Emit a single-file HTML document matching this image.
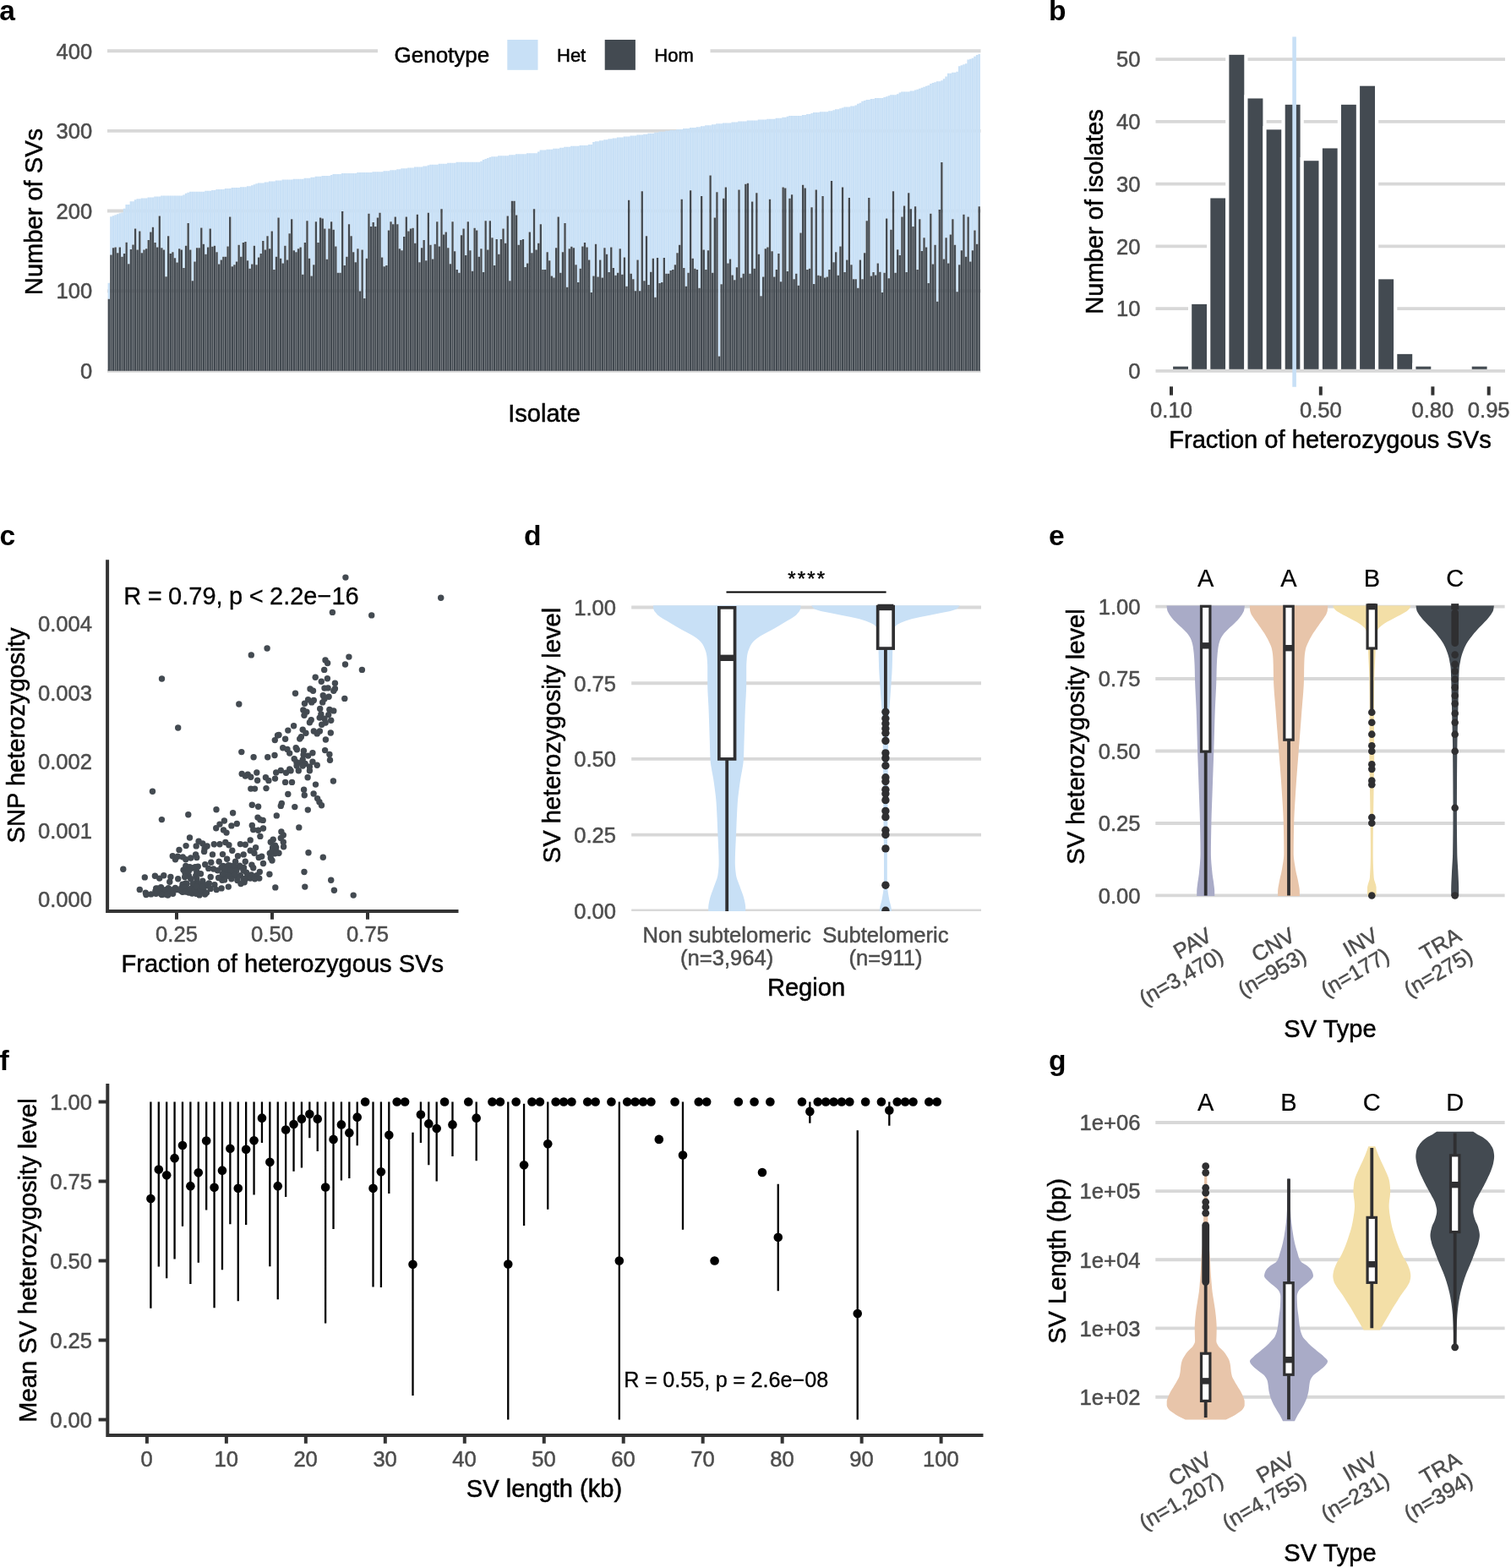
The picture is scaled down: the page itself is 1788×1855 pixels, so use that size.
<!DOCTYPE html>
<html lang="en">
<head>
<meta charset="utf-8">
<title>Figure: SV heterozygosity</title>
<style>
html,body{margin:0;padding:0;background:#fff;}
body{width:1788px;height:1855px;overflow:hidden;}
svg{display:block;font-family:"Liberation Sans", Arial, Helvetica, sans-serif;}
</style>
</head>
<body>
<svg width="1788" height="1855" viewBox="0 0 1788 1855">
<rect width="1788" height="1855" fill="#ffffff"/>
<g id="panel-a">
<path d="M127 438.85H1160.5M127 344.19H1160.5M127 249.53H1160.5M127 154.87H1160.5M127 60.21H1160.5" stroke="#d8d8d8" stroke-width="3.9" fill="none"/>
<path d="M127.58 353.66V334.72h2.45V353.66zM130.19 301.56V256.16h2.45V301.56zM132.79 293.26V255.21h2.45V293.26zM135.4 292.5V254.26h2.45V292.5zM138.01 299.3V253.32h2.45V299.3zM140.61 292.5V252.37h2.45V292.5zM143.22 303.83V251.42h2.45V303.83zM145.83 300.05V246.69h2.45V300.05zM148.44 286.76V241.96h2.45V286.76zM151.04 312.13V241.96h2.45V312.13zM153.65 295.07V238.17h2.45V295.07zM156.26 289.48V238.17h2.45V289.48zM158.87 270.6V236.28h2.45V270.6zM161.47 295.52V235.33h2.45V295.52zM164.08 273.62V235.33h2.45V273.62zM166.69 299.3V234.38h2.45V299.3zM169.3 295.52V234.38h2.45V295.52zM171.9 294.31V234.38h2.45V294.31zM174.51 283.89V233.44h2.45V283.89zM177.12 274.38V233.44h2.45V274.38zM179.72 268.79V233.44h2.45V268.79zM182.33 286.91V232.49h2.45V286.91zM184.94 292.5V232.49h2.45V292.5zM187.55 255.5V232.49h2.45V255.5zM190.15 293.26V231.54h2.45V293.26zM192.76 295.52V231.54h2.45V295.52zM195.37 327.23V231.54h2.45V327.23zM197.98 279.21V231.54h2.45V279.21zM200.58 300.05V231.54h2.45V300.05zM203.19 298.24V231.54h2.45V298.24zM205.8 305.34V231.54h2.45V305.34zM208.41 310.62V231.54h2.45V310.62zM211.01 294.31V231.54h2.45V294.31zM213.62 295.52V231.54h2.45V295.52zM216.23 317.11V230.6h2.45V317.11zM218.83 290.69V228.7h2.45V290.69zM221.44 264.11V227.76h2.45V264.11zM224.05 295.52V226.81h2.45V295.52zM226.66 332.21V226.81h2.45V332.21zM229.26 309.41V226.81h2.45V309.41zM231.87 293.26V226.81h2.45V293.26zM234.48 293.26V226.81h2.45V293.26zM237.09 269.55V226.81h2.45V269.55zM239.69 288.72V226.81h2.45V288.72zM242.3 300.81V225.87h2.45V300.81zM244.91 292.5V225.87h2.45V292.5zM247.52 270.6V225.87h2.45V270.6zM250.12 291.74V224.92h2.45V291.74zM252.73 290.69V224.92h2.45V290.69zM255.34 298.24V223.97h2.45V298.24zM257.94 312.43V223.97h2.45V312.43zM260.55 307.6V223.97h2.45V307.6zM263.16 303.83V223.97h2.45V303.83zM265.77 303.83V223.03h2.45V303.83zM268.37 291.44V223.03h2.45V291.44zM270.98 256.56V223.03h2.45V256.56zM273.59 315.15V222.08h2.45V315.15zM276.2 313.19V222.08h2.45V313.19zM278.8 309.41V222.08h2.45V309.41zM281.41 289.78V222.08h2.45V289.78zM284.02 303.83V221.13h2.45V303.83zM286.62 286.91V221.13h2.45V286.91zM289.23 286.01V221.13h2.45V286.01zM291.84 308.36V220.19h2.45V308.36zM294.45 317.87V220.19h2.45V317.87zM297.05 312.43V219.24h2.45V312.43zM299.66 290.69V218.29h2.45V290.69zM302.27 313.19V217.35h2.45V313.19zM304.88 304.58V216.4h2.45V304.58zM307.48 300.05V216.4h2.45V300.05zM310.09 284.95V216.4h2.45V284.95zM312.7 295.52V215.45h2.45V295.52zM315.31 279.21V215.45h2.45V279.21zM317.91 294.31V214.51h2.45V294.31zM320.52 273.62V214.51h2.45V273.62zM323.13 318.93V214.51h2.45V318.93zM325.73 303.83V213.56h2.45V303.83zM328.34 257.47V213.56h2.45V257.47zM330.95 305.64V213.56h2.45V305.64zM333.56 311.38V212.61h2.45V311.38zM336.16 290.69V212.61h2.45V290.69zM338.77 307.6V212.61h2.45V307.6zM341.38 276.34V212.61h2.45V276.34zM343.99 259.28V212.61h2.45V259.28zM346.59 296.28V211.67h2.45V296.28zM349.2 298.24V211.67h2.45V298.24zM351.81 294.31V211.67h2.45V294.31zM354.42 292.5V211.67h2.45V292.5zM357.02 324.66V211.67h2.45V324.66zM359.63 286.91V210.72h2.45V286.91zM362.24 261.24V210.72h2.45V261.24zM364.84 305.64V210.72h2.45V305.64zM367.45 326.48V209.77h2.45V326.48zM370.06 313.19V209.77h2.45V313.19zM372.67 262.3V208.83h2.45V262.3zM375.27 286.91V208.83h2.45V286.91zM377.88 257.47V208.83h2.45V257.47zM380.49 258.52V207.88h2.45V258.52zM383.1 270.6V207.88h2.45V270.6zM385.7 306.85V207.88h2.45V306.85zM388.31 270.6V207.88h2.45V270.6zM390.92 262.3V206.93h2.45V262.3zM393.53 271.66V205.99h2.45V271.66zM396.13 291.44V205.99h2.45V291.44zM398.74 322.7V205.99h2.45V322.7zM401.35 322.7V205.99h2.45V322.7zM403.95 249.92V205.04h2.45V249.92zM406.56 314.09V205.04h2.45V314.09zM409.17 303.83V205.04h2.45V303.83zM411.78 265.32V205.04h2.45V265.32zM414.38 279.21V205.04h2.45V279.21zM416.99 298.24V205.04h2.45V298.24zM419.6 310.32V205.04h2.45V310.32zM422.21 294.31V204.09h2.45V294.31zM424.81 344.6V204.09h2.45V344.6zM427.42 295.52V204.09h2.45V295.52zM430.03 352.9V204.09h2.45V352.9zM432.64 305.64V204.09h2.45V305.64zM435.24 252.79V204.09h2.45V252.79zM437.85 267.89V204.09h2.45V267.89zM440.46 263.05V203.15h2.45V263.05zM443.06 267.89V203.15h2.45V267.89zM445.67 257.47V203.15h2.45V257.47zM448.28 251.73V203.15h2.45V251.73zM450.89 304.58V203.15h2.45V304.58zM453.49 315.15V202.2h2.45V315.15zM456.1 314.09V202.2h2.45V314.09zM458.71 272.57V202.2h2.45V272.57zM461.32 262.3V201.25h2.45V262.3zM463.92 265.32V201.25h2.45V265.32zM466.53 256.56V201.25h2.45V256.56zM469.14 265.32V200.31h2.45V265.32zM471.74 294.31V200.31h2.45V294.31zM474.35 296.28V199.36h2.45V296.28zM476.96 280.12V199.36h2.45V280.12zM479.57 256.56V199.36h2.45V256.56zM482.17 273.62V198.41h2.45V273.62zM484.78 270.6V198.41h2.45V270.6zM487.39 269.85V198.41h2.45V269.85zM490 287.67V197.47h2.45V287.67zM492.6 253.69V197.47h2.45V253.69zM495.21 310.32V197.47h2.45V310.32zM497.82 293.26V197.47h2.45V293.26zM500.43 283.89V196.52h2.45V283.89zM503.03 308.36V196.52h2.45V308.36zM505.64 251.73V195.57h2.45V251.73zM508.25 289.78V194.63h2.45V289.78zM510.85 306.54V194.63h2.45V306.54zM513.46 288.72V194.63h2.45V288.72zM516.07 262.3V194.63h2.45V262.3zM518.68 291.44V193.68h2.45V291.44zM521.28 247.2V193.68h2.45V247.2zM523.89 277.4V193.68h2.45V277.4zM526.5 274.38V193.68h2.45V274.38zM529.11 293.26V192.73h2.45V293.26zM531.71 312.13V192.73h2.45V312.13zM534.32 262.3V192.73h2.45V262.3zM536.93 297.33V192.73h2.45V297.33zM539.54 318.93V191.79h2.45V318.93zM542.14 322.7V191.79h2.45V322.7zM544.75 278.15V191.79h2.45V278.15zM547.36 270.6V191.79h2.45V270.6zM549.96 302.01V191.79h2.45V302.01zM552.57 262.3V191.79h2.45V262.3zM555.18 296.28V191.79h2.45V296.28zM557.79 320.74V191.79h2.45V320.74zM560.39 269.85V191.79h2.45V269.85zM563 272.57V191.79h2.45V272.57zM565.61 303.83V191.79h2.45V303.83zM568.22 294.31V190.84h2.45V294.31zM570.82 321.95V188.95h2.45V321.95zM573.43 261.24V188h2.45V261.24zM576.04 295.52V187.05h2.45V295.52zM578.65 261.24V186.11h2.45V261.24zM581.25 281.17V185.16h2.45V281.17zM583.86 314.09V185.16h2.45V314.09zM586.47 282.99V185.16h2.45V282.99zM589.07 300.81V184.21h2.45V300.81zM591.68 282.99V184.21h2.45V282.99zM594.29 270.6V184.21h2.45V270.6zM596.9 287.67V184.21h2.45V287.67zM599.5 255.5V184.21h2.45V255.5zM602.11 332.21V183.27h2.45V332.21zM604.72 237.68V183.27h2.45V237.68zM607.33 237.68V183.27h2.45V237.68zM609.93 254.45V182.32h2.45V254.45zM612.54 289.78V182.32h2.45V289.78zM615.15 283.89V182.32h2.45V283.89zM617.75 282.99V182.32h2.45V282.99zM620.36 315.91V182.32h2.45V315.91zM622.97 311.38V181.37h2.45V311.38zM625.58 274.38V181.37h2.45V274.38zM628.18 299.3V181.37h2.45V299.3zM630.79 247.2V181.37h2.45V247.2zM633.4 295.52V181.37h2.45V295.52zM636.01 287.67V179.48h2.45V287.67zM638.61 265.32V177.59h2.45V265.32zM641.22 318.93V177.59h2.45V318.93zM643.83 318.93V177.59h2.45V318.93zM646.44 298.24V176.64h2.45V298.24zM649.04 308.36V176.64h2.45V308.36zM651.65 326.48V176.64h2.45V326.48zM654.26 328.44V175.7h2.45V328.44zM656.86 293.26V175.7h2.45V293.26zM659.47 256.56V175.7h2.45V256.56zM662.08 322.7V174.75h2.45V322.7zM664.69 298.24V174.75h2.45V298.24zM667.29 264.11V173.8h2.45V264.11zM669.9 339.77V173.8h2.45V339.77zM672.51 294.31V173.8h2.45V294.31zM675.12 291.74V172.86h2.45V291.74zM677.72 293.26V172.86h2.45V293.26zM680.33 313.19V172.86h2.45V313.19zM682.94 334.03V172.86h2.45V334.03zM685.55 317.87V171.91h2.45V317.87zM688.15 291.44V171.91h2.45V291.44zM690.76 286.91V171.91h2.45V286.91zM693.37 292.5V171.91h2.45V292.5zM695.97 307.6V170.96h2.45V307.6zM698.58 346.11V170.96h2.45V346.11zM701.19 326.48V168.12h2.45V326.48zM703.8 288.72V167.18h2.45V288.72zM706.4 327.53V167.18h2.45V327.53zM709.01 307.6V166.23h2.45V307.6zM711.62 328.44V166.23h2.45V328.44zM714.23 293.26V165.28h2.45V293.26zM716.83 300.81V165.28h2.45V300.81zM719.44 321.95V164.34h2.45V321.95zM722.05 292.5V164.34h2.45V292.5zM724.66 317.11V163.39h2.45V317.11zM727.26 325.72V163.39h2.45V325.72zM729.87 322.7V162.44h2.45V322.7zM732.48 294.31V162.44h2.45V294.31zM735.08 324.66V162.44h2.45V324.66zM737.69 304.58V161.5h2.45V304.58zM740.3 338.86V161.5h2.45V338.86zM742.91 236.63V161.5h2.45V236.63zM745.51 323.76V160.55h2.45V323.76zM748.12 330.25V160.55h2.45V330.25zM750.73 344.3V160.55h2.45V344.3zM753.34 307.6V159.6h2.45V307.6zM755.94 344.3V159.6h2.45V344.3zM758.55 226.36V159.6h2.45V226.36zM761.16 332.21V158.66h2.45V332.21zM763.77 279.21V158.66h2.45V279.21zM766.37 337.05V157.71h2.45V337.05zM768.98 321.64V157.71h2.45V321.64zM771.59 305.64V157.71h2.45V305.64zM774.19 351.85V156.76h2.45V351.85zM776.8 304.88V156.76h2.45V304.88zM779.41 335.08V155.82h2.45V335.08zM782.02 334.03V155.82h2.45V334.03zM784.62 304.88V155.82h2.45V304.88zM787.23 323.76V154.87h2.45V323.76zM789.84 323.76V154.87h2.45V323.76zM792.45 319.98V153.92h2.45V319.98zM795.05 318.93V153.92h2.45V318.93zM797.66 313.19V153.92h2.45V313.19zM800.27 299.3V152.98h2.45V299.3zM802.87 289.78V152.98h2.45V289.78zM805.48 235.87V152.98h2.45V235.87zM808.09 317.11V152.03h2.45V317.11zM810.7 338.86V152.03h2.45V338.86zM813.3 322.7V152.03h2.45V322.7zM815.91 225.3V151.08h2.45V225.3zM818.52 305.64V151.08h2.45V305.64zM821.13 317.87V151.08h2.45V317.87zM823.73 318.93V150.14h2.45V318.93zM826.34 340.82V150.14h2.45V340.82zM828.95 232.1V149.19h2.45V232.1zM831.56 295.52V149.19h2.45V295.52zM834.16 318.93V148.24h2.45V318.93zM836.77 296.28V148.24h2.45V296.28zM839.38 207.48V148.24h2.45V207.48zM841.98 322.7V147.3h2.45V322.7zM844.59 257.47V147.3h2.45V257.47zM847.2 227.27V146.35h2.45V227.27zM849.81 421.61V146.35h2.45V421.61zM852.41 336.29V146.35h2.45V336.29zM855.02 234.82V145.4h2.45V234.82zM857.63 221.53V145.4h2.45V221.53zM860.24 311.38V145.4h2.45V311.38zM862.84 306.54V145.4h2.45V306.54zM865.45 325.42V144.46h2.45V325.42zM868.06 331.31V144.46h2.45V331.31zM870.67 316.21V144.46h2.45V316.21zM873.27 224.55V143.51h2.45V224.55zM875.88 328.44V143.51h2.45V328.44zM878.49 323.76V143.51h2.45V323.76zM881.09 217.75V143.51h2.45V217.75zM883.7 216.69V142.56h2.45V216.69zM886.31 323.76V142.56h2.45V323.76zM888.92 238.59V142.56h2.45V238.59zM891.52 317.87V142.56h2.45V317.87zM894.13 228.32V142.56h2.45V228.32zM896.74 300.81V141.62h2.45V300.81zM899.35 350.18V141.62h2.45V350.18zM901.95 327.53V141.62h2.45V327.53zM904.56 294.31V141.62h2.45V294.31zM907.17 292.5V140.67h2.45V292.5zM909.78 235.87V140.67h2.45V235.87zM912.38 297.33V140.67h2.45V297.33zM914.99 327.53V140.67h2.45V327.53zM917.6 318.93V139.72h2.45V318.93zM920.2 300.05V139.72h2.45V300.05zM922.81 333.27V139.72h2.45V333.27zM925.42 221.53V138.78h2.45V221.53zM928.03 222.58V138.78h2.45V222.58zM930.63 320.89V137.83h2.45V320.89zM933.24 234.82V136.88h2.45V234.82zM935.85 230.13V136.88h2.45V230.13zM938.46 330.25V136.88h2.45V330.25zM941.06 323.76V136.88h2.45V323.76zM943.67 337.8V136.88h2.45V337.8zM946.28 275.44V136.88h2.45V275.44zM948.89 218.81V135.94h2.45V218.81zM951.49 222.58V135.94h2.45V222.58zM954.1 318.93V134.99h2.45V318.93zM956.71 317.87V134.99h2.45V317.87zM959.31 245.23V134.04h2.45V245.23zM961.92 335.99V133.1h2.45V335.99zM964.53 224.55V133.1h2.45V224.55zM967.14 325.72V133.1h2.45V325.72zM969.74 326.48V132.15h2.45V326.48zM972.35 232.1V132.15h2.45V232.1zM974.96 328.44V132.15h2.45V328.44zM977.57 327.53V132.15h2.45V327.53zM980.17 318.93V131.21h2.45V318.93zM982.78 213.98V131.21h2.45V213.98zM985.39 310.32V130.26h2.45V310.32zM987.99 298.24V129.31h2.45V298.24zM990.6 325.72V129.31h2.45V325.72zM993.21 291.44V128.37h2.45V291.44zM995.82 221.53V127.42h2.45V221.53zM998.42 321.95V126.47h2.45V321.95zM1001.03 307.6V126.47h2.45V307.6zM1003.64 233.91V126.47h2.45V233.91zM1006.25 313.19V125.53h2.45V313.19zM1008.85 330.25V125.53h2.45V330.25zM1011.46 330.25V124.58h2.45V330.25zM1014.07 340.82V122.69h2.45V340.82zM1016.68 307.6V121.74h2.45V307.6zM1019.28 330.25V119.85h2.45V330.25zM1021.89 299.3V118.9h2.45V299.3zM1024.5 261.24V117.95h2.45V261.24zM1027.1 233.91V117.95h2.45V233.91zM1029.71 326.48V117.01h2.45V326.48zM1032.32 321.95V117.01h2.45V321.95zM1034.93 325.42V116.06h2.45V325.42zM1037.53 311.38V116.06h2.45V311.38zM1040.14 321.64V116.06h2.45V321.64zM1042.75 346.11V116.06h2.45V346.11zM1045.36 322.7V115.11h2.45V322.7zM1047.96 258.52V114.17h2.45V258.52zM1050.57 329.19V113.22h2.45V329.19zM1053.18 271.66V112.27h2.45V271.66zM1055.79 226.36V112.27h2.45V226.36zM1058.39 322.7V112.27h2.45V322.7zM1061 295.22V111.33h2.45V295.22zM1063.61 302.01V109.43h2.45V302.01zM1066.21 256.56V108.49h2.45V256.56zM1068.82 243.42V108.49h2.45V243.42zM1071.43 321.95V108.49h2.45V321.95zM1074.04 228.32V108.49h2.45V228.32zM1076.64 247.2V107.54h2.45V247.2zM1079.25 267.89V107.54h2.45V267.89zM1081.86 244.33V106.59h2.45V244.33zM1084.47 318.93V105.65h2.45V318.93zM1087.07 259.28V104.7h2.45V259.28zM1089.68 297.03V103.75h2.45V297.03zM1092.29 281.17V102.81h2.45V281.17zM1094.9 292.5V101.86h2.45V292.5zM1097.5 335.08V100.91h2.45V335.08zM1100.11 252.79V99.02h2.45V252.79zM1102.72 312.43V98.07h2.45V312.43zM1105.32 289.78V97.13h2.45V289.78zM1107.93 356.68V96.18h2.45V356.68zM1110.54 247.95V96.18h2.45V247.95zM1113.15 192.08V95.23h2.45V192.08zM1115.75 306.54V93.34h2.45V306.54zM1118.36 281.17V90.5h2.45V281.17zM1120.97 311.38V86.71h2.45V311.38zM1123.58 277.4V86.71h2.45V277.4zM1126.18 259.28V85.77h2.45V259.28zM1128.79 289.78V85.77h2.45V289.78zM1131.4 345.35V84.82h2.45V345.35zM1134 313.19V78.2h2.45V313.19zM1136.61 296.28V77.25h2.45V296.28zM1139.22 253.69V76.3h2.45V253.69zM1141.83 303.83V75.36h2.45V303.83zM1144.43 256.56V70.62h2.45V256.56zM1147.04 309.41V69.68h2.45V309.41zM1149.65 296.28V68.73h2.45V296.28zM1152.26 272.57V66.84h2.45V272.57zM1154.86 288.72V64.94h2.45V288.72zM1157.47 244.18V64h2.45V244.18z" fill="#c8e0f6"/>
<path d="M127.64 438.85V353.66h2.33V438.85zM130.24 438.85V301.56h2.33V438.85zM132.85 438.85V293.26h2.33V438.85zM135.46 438.85V292.5h2.33V438.85zM138.07 438.85V299.3h2.33V438.85zM140.67 438.85V292.5h2.33V438.85zM143.28 438.85V303.83h2.33V438.85zM145.89 438.85V300.05h2.33V438.85zM148.5 438.85V286.76h2.33V438.85zM151.1 438.85V312.13h2.33V438.85zM153.71 438.85V295.07h2.33V438.85zM156.32 438.85V289.48h2.33V438.85zM158.92 438.85V270.6h2.33V438.85zM161.53 438.85V295.52h2.33V438.85zM164.14 438.85V273.62h2.33V438.85zM166.75 438.85V299.3h2.33V438.85zM169.35 438.85V295.52h2.33V438.85zM171.96 438.85V294.31h2.33V438.85zM174.57 438.85V283.89h2.33V438.85zM177.18 438.85V274.38h2.33V438.85zM179.78 438.85V268.79h2.33V438.85zM182.39 438.85V286.91h2.33V438.85zM185 438.85V292.5h2.33V438.85zM187.61 438.85V255.5h2.33V438.85zM190.21 438.85V293.26h2.33V438.85zM192.82 438.85V295.52h2.33V438.85zM195.43 438.85V327.23h2.33V438.85zM198.03 438.85V279.21h2.33V438.85zM200.64 438.85V300.05h2.33V438.85zM203.25 438.85V298.24h2.33V438.85zM205.86 438.85V305.34h2.33V438.85zM208.46 438.85V310.62h2.33V438.85zM211.07 438.85V294.31h2.33V438.85zM213.68 438.85V295.52h2.33V438.85zM216.29 438.85V317.11h2.33V438.85zM218.89 438.85V290.69h2.33V438.85zM221.5 438.85V264.11h2.33V438.85zM224.11 438.85V295.52h2.33V438.85zM226.72 438.85V332.21h2.33V438.85zM229.32 438.85V309.41h2.33V438.85zM231.93 438.85V293.26h2.33V438.85zM234.54 438.85V293.26h2.33V438.85zM237.14 438.85V269.55h2.33V438.85zM239.75 438.85V288.72h2.33V438.85zM242.36 438.85V300.81h2.33V438.85zM244.97 438.85V292.5h2.33V438.85zM247.57 438.85V270.6h2.33V438.85zM250.18 438.85V291.74h2.33V438.85zM252.79 438.85V290.69h2.33V438.85zM255.4 438.85V298.24h2.33V438.85zM258 438.85V312.43h2.33V438.85zM260.61 438.85V307.6h2.33V438.85zM263.22 438.85V303.83h2.33V438.85zM265.83 438.85V303.83h2.33V438.85zM268.43 438.85V291.44h2.33V438.85zM271.04 438.85V256.56h2.33V438.85zM273.65 438.85V315.15h2.33V438.85zM276.25 438.85V313.19h2.33V438.85zM278.86 438.85V309.41h2.33V438.85zM281.47 438.85V289.78h2.33V438.85zM284.08 438.85V303.83h2.33V438.85zM286.68 438.85V286.91h2.33V438.85zM289.29 438.85V286.01h2.33V438.85zM291.9 438.85V308.36h2.33V438.85zM294.51 438.85V317.87h2.33V438.85zM297.11 438.85V312.43h2.33V438.85zM299.72 438.85V290.69h2.33V438.85zM302.33 438.85V313.19h2.33V438.85zM304.93 438.85V304.58h2.33V438.85zM307.54 438.85V300.05h2.33V438.85zM310.15 438.85V284.95h2.33V438.85zM312.76 438.85V295.52h2.33V438.85zM315.36 438.85V279.21h2.33V438.85zM317.97 438.85V294.31h2.33V438.85zM320.58 438.85V273.62h2.33V438.85zM323.19 438.85V318.93h2.33V438.85zM325.79 438.85V303.83h2.33V438.85zM328.4 438.85V257.47h2.33V438.85zM331.01 438.85V305.64h2.33V438.85zM333.62 438.85V311.38h2.33V438.85zM336.22 438.85V290.69h2.33V438.85zM338.83 438.85V307.6h2.33V438.85zM341.44 438.85V276.34h2.33V438.85zM344.04 438.85V259.28h2.33V438.85zM346.65 438.85V296.28h2.33V438.85zM349.26 438.85V298.24h2.33V438.85zM351.87 438.85V294.31h2.33V438.85zM354.47 438.85V292.5h2.33V438.85zM357.08 438.85V324.66h2.33V438.85zM359.69 438.85V286.91h2.33V438.85zM362.3 438.85V261.24h2.33V438.85zM364.9 438.85V305.64h2.33V438.85zM367.51 438.85V326.48h2.33V438.85zM370.12 438.85V313.19h2.33V438.85zM372.73 438.85V262.3h2.33V438.85zM375.33 438.85V286.91h2.33V438.85zM377.94 438.85V257.47h2.33V438.85zM380.55 438.85V258.52h2.33V438.85zM383.15 438.85V270.6h2.33V438.85zM385.76 438.85V306.85h2.33V438.85zM388.37 438.85V270.6h2.33V438.85zM390.98 438.85V262.3h2.33V438.85zM393.58 438.85V271.66h2.33V438.85zM396.19 438.85V291.44h2.33V438.85zM398.8 438.85V322.7h2.33V438.85zM401.41 438.85V322.7h2.33V438.85zM404.01 438.85V249.92h2.33V438.85zM406.62 438.85V314.09h2.33V438.85zM409.23 438.85V303.83h2.33V438.85zM411.84 438.85V265.32h2.33V438.85zM414.44 438.85V279.21h2.33V438.85zM417.05 438.85V298.24h2.33V438.85zM419.66 438.85V310.32h2.33V438.85zM422.26 438.85V294.31h2.33V438.85zM424.87 438.85V344.6h2.33V438.85zM427.48 438.85V295.52h2.33V438.85zM430.09 438.85V352.9h2.33V438.85zM432.69 438.85V305.64h2.33V438.85zM435.3 438.85V252.79h2.33V438.85zM437.91 438.85V267.89h2.33V438.85zM440.52 438.85V263.05h2.33V438.85zM443.12 438.85V267.89h2.33V438.85zM445.73 438.85V257.47h2.33V438.85zM448.34 438.85V251.73h2.33V438.85zM450.94 438.85V304.58h2.33V438.85zM453.55 438.85V315.15h2.33V438.85zM456.16 438.85V314.09h2.33V438.85zM458.77 438.85V272.57h2.33V438.85zM461.37 438.85V262.3h2.33V438.85zM463.98 438.85V265.32h2.33V438.85zM466.59 438.85V256.56h2.33V438.85zM469.2 438.85V265.32h2.33V438.85zM471.8 438.85V294.31h2.33V438.85zM474.41 438.85V296.28h2.33V438.85zM477.02 438.85V280.12h2.33V438.85zM479.63 438.85V256.56h2.33V438.85zM482.23 438.85V273.62h2.33V438.85zM484.84 438.85V270.6h2.33V438.85zM487.45 438.85V269.85h2.33V438.85zM490.05 438.85V287.67h2.33V438.85zM492.66 438.85V253.69h2.33V438.85zM495.27 438.85V310.32h2.33V438.85zM497.88 438.85V293.26h2.33V438.85zM500.48 438.85V283.89h2.33V438.85zM503.09 438.85V308.36h2.33V438.85zM505.7 438.85V251.73h2.33V438.85zM508.31 438.85V289.78h2.33V438.85zM510.91 438.85V306.54h2.33V438.85zM513.52 438.85V288.72h2.33V438.85zM516.13 438.85V262.3h2.33V438.85zM518.74 438.85V291.44h2.33V438.85zM521.34 438.85V247.2h2.33V438.85zM523.95 438.85V277.4h2.33V438.85zM526.56 438.85V274.38h2.33V438.85zM529.16 438.85V293.26h2.33V438.85zM531.77 438.85V312.13h2.33V438.85zM534.38 438.85V262.3h2.33V438.85zM536.99 438.85V297.33h2.33V438.85zM539.59 438.85V318.93h2.33V438.85zM542.2 438.85V322.7h2.33V438.85zM544.81 438.85V278.15h2.33V438.85zM547.42 438.85V270.6h2.33V438.85zM550.02 438.85V302.01h2.33V438.85zM552.63 438.85V262.3h2.33V438.85zM555.24 438.85V296.28h2.33V438.85zM557.85 438.85V320.74h2.33V438.85zM560.45 438.85V269.85h2.33V438.85zM563.06 438.85V272.57h2.33V438.85zM565.67 438.85V303.83h2.33V438.85zM568.27 438.85V294.31h2.33V438.85zM570.88 438.85V321.95h2.33V438.85zM573.49 438.85V261.24h2.33V438.85zM576.1 438.85V295.52h2.33V438.85zM578.7 438.85V261.24h2.33V438.85zM581.31 438.85V281.17h2.33V438.85zM583.92 438.85V314.09h2.33V438.85zM586.53 438.85V282.99h2.33V438.85zM589.13 438.85V300.81h2.33V438.85zM591.74 438.85V282.99h2.33V438.85zM594.35 438.85V270.6h2.33V438.85zM596.96 438.85V287.67h2.33V438.85zM599.56 438.85V255.5h2.33V438.85zM602.17 438.85V332.21h2.33V438.85zM604.78 438.85V237.68h2.33V438.85zM607.38 438.85V237.68h2.33V438.85zM609.99 438.85V254.45h2.33V438.85zM612.6 438.85V289.78h2.33V438.85zM615.21 438.85V283.89h2.33V438.85zM617.81 438.85V282.99h2.33V438.85zM620.42 438.85V315.91h2.33V438.85zM623.03 438.85V311.38h2.33V438.85zM625.64 438.85V274.38h2.33V438.85zM628.24 438.85V299.3h2.33V438.85zM630.85 438.85V247.2h2.33V438.85zM633.46 438.85V295.52h2.33V438.85zM636.06 438.85V287.67h2.33V438.85zM638.67 438.85V265.32h2.33V438.85zM641.28 438.85V318.93h2.33V438.85zM643.89 438.85V318.93h2.33V438.85zM646.49 438.85V298.24h2.33V438.85zM649.1 438.85V308.36h2.33V438.85zM651.71 438.85V326.48h2.33V438.85zM654.32 438.85V328.44h2.33V438.85zM656.92 438.85V293.26h2.33V438.85zM659.53 438.85V256.56h2.33V438.85zM662.14 438.85V322.7h2.33V438.85zM664.75 438.85V298.24h2.33V438.85zM667.35 438.85V264.11h2.33V438.85zM669.96 438.85V339.77h2.33V438.85zM672.57 438.85V294.31h2.33V438.85zM675.17 438.85V291.74h2.33V438.85zM677.78 438.85V293.26h2.33V438.85zM680.39 438.85V313.19h2.33V438.85zM683 438.85V334.03h2.33V438.85zM685.6 438.85V317.87h2.33V438.85zM688.21 438.85V291.44h2.33V438.85zM690.82 438.85V286.91h2.33V438.85zM693.43 438.85V292.5h2.33V438.85zM696.03 438.85V307.6h2.33V438.85zM698.64 438.85V346.11h2.33V438.85zM701.25 438.85V326.48h2.33V438.85zM703.86 438.85V288.72h2.33V438.85zM706.46 438.85V327.53h2.33V438.85zM709.07 438.85V307.6h2.33V438.85zM711.68 438.85V328.44h2.33V438.85zM714.28 438.85V293.26h2.33V438.85zM716.89 438.85V300.81h2.33V438.85zM719.5 438.85V321.95h2.33V438.85zM722.11 438.85V292.5h2.33V438.85zM724.71 438.85V317.11h2.33V438.85zM727.32 438.85V325.72h2.33V438.85zM729.93 438.85V322.7h2.33V438.85zM732.54 438.85V294.31h2.33V438.85zM735.14 438.85V324.66h2.33V438.85zM737.75 438.85V304.58h2.33V438.85zM740.36 438.85V338.86h2.33V438.85zM742.97 438.85V236.63h2.33V438.85zM745.57 438.85V323.76h2.33V438.85zM748.18 438.85V330.25h2.33V438.85zM750.79 438.85V344.3h2.33V438.85zM753.39 438.85V307.6h2.33V438.85zM756 438.85V344.3h2.33V438.85zM758.61 438.85V226.36h2.33V438.85zM761.22 438.85V332.21h2.33V438.85zM763.82 438.85V279.21h2.33V438.85zM766.43 438.85V337.05h2.33V438.85zM769.04 438.85V321.64h2.33V438.85zM771.65 438.85V305.64h2.33V438.85zM774.25 438.85V351.85h2.33V438.85zM776.86 438.85V304.88h2.33V438.85zM779.47 438.85V335.08h2.33V438.85zM782.08 438.85V334.03h2.33V438.85zM784.68 438.85V304.88h2.33V438.85zM787.29 438.85V323.76h2.33V438.85zM789.9 438.85V323.76h2.33V438.85zM792.5 438.85V319.98h2.33V438.85zM795.11 438.85V318.93h2.33V438.85zM797.72 438.85V313.19h2.33V438.85zM800.33 438.85V299.3h2.33V438.85zM802.93 438.85V289.78h2.33V438.85zM805.54 438.85V235.87h2.33V438.85zM808.15 438.85V317.11h2.33V438.85zM810.76 438.85V338.86h2.33V438.85zM813.36 438.85V322.7h2.33V438.85zM815.97 438.85V225.3h2.33V438.85zM818.58 438.85V305.64h2.33V438.85zM821.18 438.85V317.87h2.33V438.85zM823.79 438.85V318.93h2.33V438.85zM826.4 438.85V340.82h2.33V438.85zM829.01 438.85V232.1h2.33V438.85zM831.61 438.85V295.52h2.33V438.85zM834.22 438.85V318.93h2.33V438.85zM836.83 438.85V296.28h2.33V438.85zM839.44 438.85V207.48h2.33V438.85zM842.04 438.85V322.7h2.33V438.85zM844.65 438.85V257.47h2.33V438.85zM847.26 438.85V227.27h2.33V438.85zM849.87 438.85V421.61h2.33V438.85zM852.47 438.85V336.29h2.33V438.85zM855.08 438.85V234.82h2.33V438.85zM857.69 438.85V221.53h2.33V438.85zM860.29 438.85V311.38h2.33V438.85zM862.9 438.85V306.54h2.33V438.85zM865.51 438.85V325.42h2.33V438.85zM868.12 438.85V331.31h2.33V438.85zM870.72 438.85V316.21h2.33V438.85zM873.33 438.85V224.55h2.33V438.85zM875.94 438.85V328.44h2.33V438.85zM878.55 438.85V323.76h2.33V438.85zM881.15 438.85V217.75h2.33V438.85zM883.76 438.85V216.69h2.33V438.85zM886.37 438.85V323.76h2.33V438.85zM888.98 438.85V238.59h2.33V438.85zM891.58 438.85V317.87h2.33V438.85zM894.19 438.85V228.32h2.33V438.85zM896.8 438.85V300.81h2.33V438.85zM899.4 438.85V350.18h2.33V438.85zM902.01 438.85V327.53h2.33V438.85zM904.62 438.85V294.31h2.33V438.85zM907.23 438.85V292.5h2.33V438.85zM909.83 438.85V235.87h2.33V438.85zM912.44 438.85V297.33h2.33V438.85zM915.05 438.85V327.53h2.33V438.85zM917.66 438.85V318.93h2.33V438.85zM920.26 438.85V300.05h2.33V438.85zM922.87 438.85V333.27h2.33V438.85zM925.48 438.85V221.53h2.33V438.85zM928.09 438.85V222.58h2.33V438.85zM930.69 438.85V320.89h2.33V438.85zM933.3 438.85V234.82h2.33V438.85zM935.91 438.85V230.13h2.33V438.85zM938.51 438.85V330.25h2.33V438.85zM941.12 438.85V323.76h2.33V438.85zM943.73 438.85V337.8h2.33V438.85zM946.34 438.85V275.44h2.33V438.85zM948.94 438.85V218.81h2.33V438.85zM951.55 438.85V222.58h2.33V438.85zM954.16 438.85V318.93h2.33V438.85zM956.77 438.85V317.87h2.33V438.85zM959.37 438.85V245.23h2.33V438.85zM961.98 438.85V335.99h2.33V438.85zM964.59 438.85V224.55h2.33V438.85zM967.19 438.85V325.72h2.33V438.85zM969.8 438.85V326.48h2.33V438.85zM972.41 438.85V232.1h2.33V438.85zM975.02 438.85V328.44h2.33V438.85zM977.62 438.85V327.53h2.33V438.85zM980.23 438.85V318.93h2.33V438.85zM982.84 438.85V213.98h2.33V438.85zM985.45 438.85V310.32h2.33V438.85zM988.05 438.85V298.24h2.33V438.85zM990.66 438.85V325.72h2.33V438.85zM993.27 438.85V291.44h2.33V438.85zM995.88 438.85V221.53h2.33V438.85zM998.48 438.85V321.95h2.33V438.85zM1001.09 438.85V307.6h2.33V438.85zM1003.7 438.85V233.91h2.33V438.85zM1006.3 438.85V313.19h2.33V438.85zM1008.91 438.85V330.25h2.33V438.85zM1011.52 438.85V330.25h2.33V438.85zM1014.13 438.85V340.82h2.33V438.85zM1016.73 438.85V307.6h2.33V438.85zM1019.34 438.85V330.25h2.33V438.85zM1021.95 438.85V299.3h2.33V438.85zM1024.56 438.85V261.24h2.33V438.85zM1027.16 438.85V233.91h2.33V438.85zM1029.77 438.85V326.48h2.33V438.85zM1032.38 438.85V321.95h2.33V438.85zM1034.99 438.85V325.42h2.33V438.85zM1037.59 438.85V311.38h2.33V438.85zM1040.2 438.85V321.64h2.33V438.85zM1042.81 438.85V346.11h2.33V438.85zM1045.41 438.85V322.7h2.33V438.85zM1048.02 438.85V258.52h2.33V438.85zM1050.63 438.85V329.19h2.33V438.85zM1053.24 438.85V271.66h2.33V438.85zM1055.84 438.85V226.36h2.33V438.85zM1058.45 438.85V322.7h2.33V438.85zM1061.06 438.85V295.22h2.33V438.85zM1063.67 438.85V302.01h2.33V438.85zM1066.27 438.85V256.56h2.33V438.85zM1068.88 438.85V243.42h2.33V438.85zM1071.49 438.85V321.95h2.33V438.85zM1074.1 438.85V228.32h2.33V438.85zM1076.7 438.85V247.2h2.33V438.85zM1079.31 438.85V267.89h2.33V438.85zM1081.92 438.85V244.33h2.33V438.85zM1084.52 438.85V318.93h2.33V438.85zM1087.13 438.85V259.28h2.33V438.85zM1089.74 438.85V297.03h2.33V438.85zM1092.35 438.85V281.17h2.33V438.85zM1094.95 438.85V292.5h2.33V438.85zM1097.56 438.85V335.08h2.33V438.85zM1100.17 438.85V252.79h2.33V438.85zM1102.78 438.85V312.43h2.33V438.85zM1105.38 438.85V289.78h2.33V438.85zM1107.99 438.85V356.68h2.33V438.85zM1110.6 438.85V247.95h2.33V438.85zM1113.21 438.85V192.08h2.33V438.85zM1115.81 438.85V306.54h2.33V438.85zM1118.42 438.85V281.17h2.33V438.85zM1121.03 438.85V311.38h2.33V438.85zM1123.63 438.85V277.4h2.33V438.85zM1126.24 438.85V259.28h2.33V438.85zM1128.85 438.85V289.78h2.33V438.85zM1131.46 438.85V345.35h2.33V438.85zM1134.06 438.85V313.19h2.33V438.85zM1136.67 438.85V296.28h2.33V438.85zM1139.28 438.85V253.69h2.33V438.85zM1141.89 438.85V303.83h2.33V438.85zM1144.49 438.85V256.56h2.33V438.85zM1147.1 438.85V309.41h2.33V438.85zM1149.71 438.85V296.28h2.33V438.85zM1152.31 438.85V272.57h2.33V438.85zM1154.92 438.85V288.72h2.33V438.85zM1157.53 438.85V244.18h2.33V438.85z" fill="#434a51"/>
<rect x="447" y="40" width="393.5" height="50" fill="#ffffff"/>
<text x="466.5" y="74.3" font-size="26" fill="#000" stroke="#000" stroke-width="0.5">Genotype</text>
<rect x="600.3" y="47" width="36.2" height="35.8" fill="#c8e0f6"/>
<text x="659" y="72.8" font-size="22" fill="#000" stroke="#000" stroke-width="0.5">Het</text>
<rect x="715.7" y="47" width="36.2" height="35.8" fill="#434a51"/>
<text x="774.3" y="72.8" font-size="22" fill="#000" stroke="#000" stroke-width="0.5">Hom</text>
<text x="109.3" y="448.15" font-size="25.6" fill="#4d4d4d" text-anchor="end" stroke="#4d4d4d" stroke-width="0.5">0</text>
<text x="109.3" y="353.49" font-size="25.6" fill="#4d4d4d" text-anchor="end" stroke="#4d4d4d" stroke-width="0.5">100</text>
<text x="109.3" y="258.83" font-size="25.6" fill="#4d4d4d" text-anchor="end" stroke="#4d4d4d" stroke-width="0.5">200</text>
<text x="109.3" y="164.17" font-size="25.6" fill="#4d4d4d" text-anchor="end" stroke="#4d4d4d" stroke-width="0.5">300</text>
<text x="109.3" y="69.51" font-size="25.6" fill="#4d4d4d" text-anchor="end" stroke="#4d4d4d" stroke-width="0.5">400</text>
<text x="49.5" y="250.5" font-size="29.1" fill="#000" text-anchor="middle" transform="rotate(-90 49.5 250.5)" stroke="#000" stroke-width="0.5">Number of SVs</text>
<text x="644" y="498.5" font-size="29.1" fill="#000" text-anchor="middle" stroke="#000" stroke-width="0.5">Isolate</text>
<text x="-0.8" y="24.4" font-size="33.6" fill="#000" font-weight="bold">a</text>
</g>
<g id="panel-b">
<path d="M1367.5 365.14H1781M1367.5 291.38H1781M1367.5 217.62H1781M1367.5 143.86H1781M1367.5 70.1H1781" stroke="#d8d8d8" stroke-width="3.9" fill="none"/>
<g stroke="#ffffff" stroke-width="4.2"><rect x="1386" y="431.52" width="22.1" height="7.38" fill="#434a51"/><rect x="1408.1" y="357.76" width="22.1" height="81.14" fill="#434a51"/><rect x="1430.2" y="232.37" width="22.1" height="206.53" fill="#434a51"/><rect x="1452.3" y="62.72" width="22.1" height="376.18" fill="#434a51"/><rect x="1474.4" y="114.36" width="22.1" height="324.54" fill="#434a51"/><rect x="1496.5" y="151.24" width="22.1" height="287.66" fill="#434a51"/><rect x="1518.6" y="121.73" width="22.1" height="317.17" fill="#434a51"/><rect x="1540.7" y="188.12" width="22.1" height="250.78" fill="#434a51"/><rect x="1562.8" y="173.36" width="22.1" height="265.54" fill="#434a51"/><rect x="1584.9" y="121.73" width="22.1" height="317.17" fill="#434a51"/><rect x="1607" y="99.6" width="22.1" height="339.3" fill="#434a51"/><rect x="1629.1" y="328.26" width="22.1" height="110.64" fill="#434a51"/><rect x="1651.2" y="416.77" width="22.1" height="22.13" fill="#434a51"/><rect x="1673.3" y="431.52" width="22.1" height="7.38" fill="#434a51"/><rect x="1739.6" y="431.52" width="22.1" height="7.38" fill="#434a51"/></g>
<path d="M1367.5 438.9H1781" stroke="#d8d8d8" stroke-width="3.9" fill="none"/>
<line x1="1531.6" y1="43.5" x2="1531.6" y2="457.7" stroke="#c8e0f6" stroke-width="4.6"/>
<line x1="1386" y1="457.3" x2="1386" y2="467.6" stroke="#333333" stroke-width="4"/>
<text x="1386" y="494.3" font-size="25.6" fill="#4d4d4d" text-anchor="middle" stroke="#4d4d4d" stroke-width="0.5">0.10</text>
<line x1="1562.8" y1="457.3" x2="1562.8" y2="467.6" stroke="#333333" stroke-width="4"/>
<text x="1562.8" y="494.3" font-size="25.6" fill="#4d4d4d" text-anchor="middle" stroke="#4d4d4d" stroke-width="0.5">0.50</text>
<line x1="1695.4" y1="457.3" x2="1695.4" y2="467.6" stroke="#333333" stroke-width="4"/>
<text x="1695.4" y="494.3" font-size="25.6" fill="#4d4d4d" text-anchor="middle" stroke="#4d4d4d" stroke-width="0.5">0.80</text>
<line x1="1761.7" y1="457.3" x2="1761.7" y2="467.6" stroke="#333333" stroke-width="4"/>
<text x="1761.7" y="494.3" font-size="25.6" fill="#4d4d4d" text-anchor="middle" stroke="#4d4d4d" stroke-width="0.5">0.95</text>
<text x="1349.5" y="448.1" font-size="25.6" fill="#4d4d4d" text-anchor="end" stroke="#4d4d4d" stroke-width="0.5">0</text>
<text x="1349.5" y="374.34" font-size="25.6" fill="#4d4d4d" text-anchor="end" stroke="#4d4d4d" stroke-width="0.5">10</text>
<text x="1349.5" y="300.58" font-size="25.6" fill="#4d4d4d" text-anchor="end" stroke="#4d4d4d" stroke-width="0.5">20</text>
<text x="1349.5" y="226.82" font-size="25.6" fill="#4d4d4d" text-anchor="end" stroke="#4d4d4d" stroke-width="0.5">30</text>
<text x="1349.5" y="153.06" font-size="25.6" fill="#4d4d4d" text-anchor="end" stroke="#4d4d4d" stroke-width="0.5">40</text>
<text x="1349.5" y="79.3" font-size="25.6" fill="#4d4d4d" text-anchor="end" stroke="#4d4d4d" stroke-width="0.5">50</text>
<text x="1304.5" y="250.5" font-size="29.1" fill="#000" text-anchor="middle" transform="rotate(-90 1304.5 250.5)" stroke="#000" stroke-width="0.5">Number of isolates</text>
<text x="1574" y="530.3" font-size="29.1" fill="#000" text-anchor="middle" stroke="#000" stroke-width="0.5">Fraction of heterozygous SVs</text>
<text x="1241" y="24.2" font-size="33.6" fill="#000" font-weight="bold">b</text>
</g>
<g id="panel-c">
<g><circle cx="191.1" cy="1051.43" r="3.7" fill="#434a51"/><circle cx="199.27" cy="1050.69" r="3.7" fill="#434a51"/><circle cx="196.4" cy="1053.47" r="3.7" fill="#434a51"/><circle cx="184.45" cy="1054.82" r="3.7" fill="#434a51"/><circle cx="183.94" cy="1054.12" r="3.7" fill="#434a51"/><circle cx="184.75" cy="1050.86" r="3.7" fill="#434a51"/><circle cx="193.61" cy="1057.86" r="3.7" fill="#434a51"/><circle cx="186.1" cy="1052.12" r="3.7" fill="#434a51"/><circle cx="198.69" cy="1059" r="3.7" fill="#434a51"/><circle cx="197.43" cy="1053.77" r="3.7" fill="#434a51"/><circle cx="207.41" cy="1050.44" r="3.7" fill="#434a51"/><circle cx="204.46" cy="1052.75" r="3.7" fill="#434a51"/><circle cx="186.61" cy="1051.12" r="3.7" fill="#434a51"/><circle cx="190.71" cy="1057.75" r="3.7" fill="#434a51"/><circle cx="187.52" cy="1055.53" r="3.7" fill="#434a51"/><circle cx="198.97" cy="1053.54" r="3.7" fill="#434a51"/><circle cx="232.62" cy="1044" r="3.7" fill="#434a51"/><circle cx="216.03" cy="1046.3" r="3.7" fill="#434a51"/><circle cx="237.13" cy="1049.84" r="3.7" fill="#434a51"/><circle cx="224.68" cy="1052.37" r="3.7" fill="#434a51"/><circle cx="229.41" cy="1047.8" r="3.7" fill="#434a51"/><circle cx="241.01" cy="1054.18" r="3.7" fill="#434a51"/><circle cx="222.3" cy="1052.19" r="3.7" fill="#434a51"/><circle cx="231.86" cy="1057" r="3.7" fill="#434a51"/><circle cx="238.8" cy="1047.61" r="3.7" fill="#434a51"/><circle cx="247.33" cy="1044.89" r="3.7" fill="#434a51"/><circle cx="228.22" cy="1055.11" r="3.7" fill="#434a51"/><circle cx="219.17" cy="1050.82" r="3.7" fill="#434a51"/><circle cx="215.33" cy="1053.69" r="3.7" fill="#434a51"/><circle cx="240" cy="1052.17" r="3.7" fill="#434a51"/><circle cx="243.77" cy="1048.02" r="3.7" fill="#434a51"/><circle cx="237.64" cy="1052.51" r="3.7" fill="#434a51"/><circle cx="233.72" cy="1050.3" r="3.7" fill="#434a51"/><circle cx="242.56" cy="1058.11" r="3.7" fill="#434a51"/><circle cx="230.12" cy="1053.63" r="3.7" fill="#434a51"/><circle cx="216.06" cy="1054.22" r="3.7" fill="#434a51"/><circle cx="236" cy="1058.89" r="3.7" fill="#434a51"/><circle cx="241.95" cy="1047.55" r="3.7" fill="#434a51"/><circle cx="227.12" cy="1053.7" r="3.7" fill="#434a51"/><circle cx="214.77" cy="1050.39" r="3.7" fill="#434a51"/><circle cx="219.71" cy="1044.87" r="3.7" fill="#434a51"/><circle cx="216" cy="1055.29" r="3.7" fill="#434a51"/><circle cx="218.4" cy="1046.96" r="3.7" fill="#434a51"/><circle cx="227.29" cy="1056.94" r="3.7" fill="#434a51"/><circle cx="216.74" cy="1050.19" r="3.7" fill="#434a51"/><circle cx="232.68" cy="1057.13" r="3.7" fill="#434a51"/><circle cx="231.75" cy="1035.96" r="3.7" fill="#434a51"/><circle cx="222.01" cy="1029.23" r="3.7" fill="#434a51"/><circle cx="223.46" cy="1036.26" r="3.7" fill="#434a51"/><circle cx="234.24" cy="1025.26" r="3.7" fill="#434a51"/><circle cx="220.17" cy="1026.48" r="3.7" fill="#434a51"/><circle cx="221.2" cy="1030.27" r="3.7" fill="#434a51"/><circle cx="227.6" cy="1026.94" r="3.7" fill="#434a51"/><circle cx="217.07" cy="1029.28" r="3.7" fill="#434a51"/><circle cx="273.82" cy="1034.89" r="3.7" fill="#434a51"/><circle cx="292.5" cy="1037.5" r="3.7" fill="#434a51"/><circle cx="278.5" cy="1035.97" r="3.7" fill="#434a51"/><circle cx="283.64" cy="1024.13" r="3.7" fill="#434a51"/><circle cx="290.79" cy="1039.38" r="3.7" fill="#434a51"/><circle cx="289.98" cy="1039.76" r="3.7" fill="#434a51"/><circle cx="274.56" cy="1031.38" r="3.7" fill="#434a51"/><circle cx="265.31" cy="1036.32" r="3.7" fill="#434a51"/><circle cx="263.99" cy="1024.41" r="3.7" fill="#434a51"/><circle cx="268.68" cy="1026.41" r="3.7" fill="#434a51"/><circle cx="272.88" cy="1024.1" r="3.7" fill="#434a51"/><circle cx="262.01" cy="1026.18" r="3.7" fill="#434a51"/><circle cx="265.25" cy="1030.64" r="3.7" fill="#434a51"/><circle cx="262.82" cy="1041.36" r="3.7" fill="#434a51"/><circle cx="281.65" cy="1026.12" r="3.7" fill="#434a51"/><circle cx="270.07" cy="1030.3" r="3.7" fill="#434a51"/><circle cx="273.65" cy="1025.58" r="3.7" fill="#434a51"/><circle cx="289.17" cy="1043.86" r="3.7" fill="#434a51"/><circle cx="276.91" cy="1033.16" r="3.7" fill="#434a51"/><circle cx="264.75" cy="1025.15" r="3.7" fill="#434a51"/><circle cx="272.96" cy="1028.56" r="3.7" fill="#434a51"/><circle cx="288.52" cy="1026.39" r="3.7" fill="#434a51"/><circle cx="319.28" cy="1009.51" r="3.7" fill="#434a51"/><circle cx="325.34" cy="1001.47" r="3.7" fill="#434a51"/><circle cx="325.52" cy="1000.27" r="3.7" fill="#434a51"/><circle cx="325.34" cy="1009.79" r="3.7" fill="#434a51"/><circle cx="191.5" cy="803" r="3.7" fill="#434a51"/><circle cx="297.3" cy="774.9" r="3.7" fill="#434a51"/><circle cx="316.1" cy="767" r="3.7" fill="#434a51"/><circle cx="282.8" cy="833" r="3.7" fill="#434a51"/><circle cx="210.7" cy="861" r="3.7" fill="#434a51"/><circle cx="408.9" cy="683.1" r="3.7" fill="#434a51"/><circle cx="521.7" cy="707.3" r="3.7" fill="#434a51"/><circle cx="393.4" cy="724.4" r="3.7" fill="#434a51"/><circle cx="439.7" cy="727.9" r="3.7" fill="#434a51"/><circle cx="412.9" cy="777.1" r="3.7" fill="#434a51"/><circle cx="385" cy="781" r="3.7" fill="#434a51"/><circle cx="387.6" cy="784.5" r="3.7" fill="#434a51"/><circle cx="408.5" cy="786" r="3.7" fill="#434a51"/><circle cx="428.4" cy="792.4" r="3.7" fill="#434a51"/><circle cx="383.7" cy="792.4" r="3.7" fill="#434a51"/><circle cx="373.2" cy="801.2" r="3.7" fill="#434a51"/><circle cx="387.4" cy="802.7" r="3.7" fill="#434a51"/><circle cx="380.3" cy="806.2" r="3.7" fill="#434a51"/><circle cx="396.4" cy="808.2" r="3.7" fill="#434a51"/><circle cx="384" cy="814.1" r="3.7" fill="#434a51"/><circle cx="388.1" cy="813.9" r="3.7" fill="#434a51"/><circle cx="396.4" cy="814.8" r="3.7" fill="#434a51"/><circle cx="394.8" cy="817.2" r="3.7" fill="#434a51"/><circle cx="367" cy="815" r="3.7" fill="#434a51"/><circle cx="370.5" cy="817.2" r="3.7" fill="#434a51"/><circle cx="349.5" cy="820.2" r="3.7" fill="#434a51"/><circle cx="382.3" cy="822.7" r="3.7" fill="#434a51"/><circle cx="389.1" cy="824.2" r="3.7" fill="#434a51"/><circle cx="384" cy="826.8" r="3.7" fill="#434a51"/><circle cx="407.8" cy="826.4" r="3.7" fill="#434a51"/><circle cx="364.6" cy="827.7" r="3.7" fill="#434a51"/><circle cx="371.3" cy="828.5" r="3.7" fill="#434a51"/><circle cx="381.7" cy="830.9" r="3.7" fill="#434a51"/><circle cx="360.5" cy="832.3" r="3.7" fill="#434a51"/><circle cx="368.8" cy="830.9" r="3.7" fill="#434a51"/><circle cx="378.7" cy="838.5" r="3.7" fill="#434a51"/><circle cx="389.9" cy="839.5" r="3.7" fill="#434a51"/><circle cx="394.8" cy="840.9" r="3.7" fill="#434a51"/><circle cx="358.8" cy="839.9" r="3.7" fill="#434a51"/><circle cx="362.9" cy="842.1" r="3.7" fill="#434a51"/><circle cx="379.9" cy="845" r="3.7" fill="#434a51"/><circle cx="388.7" cy="845.6" r="3.7" fill="#434a51"/><circle cx="360" cy="846.2" r="3.7" fill="#434a51"/><circle cx="378.2" cy="849.1" r="3.7" fill="#434a51"/><circle cx="384" cy="850.3" r="3.7" fill="#434a51"/><circle cx="391.7" cy="852.3" r="3.7" fill="#434a51"/><circle cx="368.2" cy="851.7" r="3.7" fill="#434a51"/><circle cx="366.4" cy="854.7" r="3.7" fill="#434a51"/><circle cx="385.2" cy="855" r="3.7" fill="#434a51"/><circle cx="380.7" cy="857.3" r="3.7" fill="#434a51"/><circle cx="347.6" cy="858.7" r="3.7" fill="#434a51"/><circle cx="340.8" cy="864.1" r="3.7" fill="#434a51"/><circle cx="358.2" cy="863.2" r="3.7" fill="#434a51"/><circle cx="361.9" cy="867.3" r="3.7" fill="#434a51"/><circle cx="371.3" cy="865" r="3.7" fill="#434a51"/><circle cx="378.4" cy="865" r="3.7" fill="#434a51"/><circle cx="375.2" cy="867.9" r="3.7" fill="#434a51"/><circle cx="391.3" cy="867" r="3.7" fill="#434a51"/><circle cx="330" cy="869.4" r="3.7" fill="#434a51"/><circle cx="337.6" cy="874.3" r="3.7" fill="#434a51"/><circle cx="356.4" cy="871.7" r="3.7" fill="#434a51"/><circle cx="354.7" cy="874.1" r="3.7" fill="#434a51"/><circle cx="385.4" cy="875" r="3.7" fill="#434a51"/><circle cx="334.7" cy="884.7" r="3.7" fill="#434a51"/><circle cx="340" cy="886.4" r="3.7" fill="#434a51"/><circle cx="342.7" cy="891.1" r="3.7" fill="#434a51"/><circle cx="350.2" cy="884.7" r="3.7" fill="#434a51"/><circle cx="351.4" cy="886.8" r="3.7" fill="#434a51"/><circle cx="359.4" cy="888.2" r="3.7" fill="#434a51"/><circle cx="369.9" cy="890.8" r="3.7" fill="#434a51"/><circle cx="359.1" cy="892.9" r="3.7" fill="#434a51"/><circle cx="364.6" cy="894.1" r="3.7" fill="#434a51"/><circle cx="384.6" cy="887.6" r="3.7" fill="#434a51"/><circle cx="389.9" cy="892.5" r="3.7" fill="#434a51"/><circle cx="390.5" cy="899.3" r="3.7" fill="#434a51"/><circle cx="348.2" cy="897.8" r="3.7" fill="#434a51"/><circle cx="358.2" cy="898.8" r="3.7" fill="#434a51"/><circle cx="350.9" cy="901.7" r="3.7" fill="#434a51"/><circle cx="356.4" cy="902.3" r="3.7" fill="#434a51"/><circle cx="361.1" cy="903.5" r="3.7" fill="#434a51"/><circle cx="369.9" cy="901.3" r="3.7" fill="#434a51"/><circle cx="375.2" cy="905.2" r="3.7" fill="#434a51"/><circle cx="351.1" cy="906" r="3.7" fill="#434a51"/><circle cx="358.2" cy="906" r="3.7" fill="#434a51"/><circle cx="366.4" cy="907" r="3.7" fill="#434a51"/><circle cx="332.3" cy="911.4" r="3.7" fill="#434a51"/><circle cx="338.5" cy="914.3" r="3.7" fill="#434a51"/><circle cx="342.7" cy="909.9" r="3.7" fill="#434a51"/><circle cx="344.1" cy="911.7" r="3.7" fill="#434a51"/><circle cx="353.3" cy="911.7" r="3.7" fill="#434a51"/><circle cx="366.4" cy="911.7" r="3.7" fill="#434a51"/><circle cx="364.1" cy="919.7" r="3.7" fill="#434a51"/><circle cx="394.4" cy="924" r="3.7" fill="#434a51"/><circle cx="337.6" cy="925.4" r="3.7" fill="#434a51"/><circle cx="345.5" cy="925.4" r="3.7" fill="#434a51"/><circle cx="373.5" cy="928.1" r="3.7" fill="#434a51"/><circle cx="359.6" cy="934.3" r="3.7" fill="#434a51"/><circle cx="360.3" cy="940.8" r="3.7" fill="#434a51"/><circle cx="340.8" cy="939.5" r="3.7" fill="#434a51"/><circle cx="371.1" cy="939" r="3.7" fill="#434a51"/><circle cx="375.6" cy="944.6" r="3.7" fill="#434a51"/><circle cx="377.9" cy="948.7" r="3.7" fill="#434a51"/><circle cx="380.5" cy="952.8" r="3.7" fill="#434a51"/><circle cx="333.3" cy="950.4" r="3.7" fill="#434a51"/><circle cx="332.3" cy="953.4" r="3.7" fill="#434a51"/><circle cx="348.8" cy="954.6" r="3.7" fill="#434a51"/><circle cx="364.3" cy="958.1" r="3.7" fill="#434a51"/><circle cx="353.8" cy="978.9" r="3.7" fill="#434a51"/><circle cx="332.9" cy="983.9" r="3.7" fill="#434a51"/><circle cx="335.3" cy="988" r="3.7" fill="#434a51"/><circle cx="332.3" cy="991.5" r="3.7" fill="#434a51"/><circle cx="335.3" cy="996.2" r="3.7" fill="#434a51"/><circle cx="335.6" cy="1001.8" r="3.7" fill="#434a51"/><circle cx="330" cy="1009.2" r="3.7" fill="#434a51"/><circle cx="365" cy="1008.8" r="3.7" fill="#434a51"/><circle cx="382.3" cy="1014.2" r="3.7" fill="#434a51"/><circle cx="360" cy="1031.5" r="3.7" fill="#434a51"/><circle cx="391.7" cy="1041.2" r="3.7" fill="#434a51"/><circle cx="360.8" cy="1049.1" r="3.7" fill="#434a51"/><circle cx="395.4" cy="1053.2" r="3.7" fill="#434a51"/><circle cx="418.2" cy="1059.1" r="3.7" fill="#434a51"/><circle cx="180.5" cy="936.3" r="3.7" fill="#434a51"/><circle cx="191.4" cy="969.6" r="3.7" fill="#434a51"/><circle cx="222.8" cy="963.7" r="3.7" fill="#434a51"/><circle cx="256" cy="957.7" r="3.7" fill="#434a51"/><circle cx="275.6" cy="961.8" r="3.7" fill="#434a51"/><circle cx="145.8" cy="1028.2" r="3.7" fill="#434a51"/><circle cx="285.8" cy="889.6" r="3.7" fill="#434a51"/><circle cx="300.1" cy="895.8" r="3.7" fill="#434a51"/><circle cx="316.7" cy="895.8" r="3.7" fill="#434a51"/><circle cx="325" cy="893.5" r="3.7" fill="#434a51"/><circle cx="325.3" cy="875.6" r="3.7" fill="#434a51"/><circle cx="328.5" cy="870" r="3.7" fill="#434a51"/><circle cx="286.2" cy="915.4" r="3.7" fill="#434a51"/><circle cx="290.3" cy="918.1" r="3.7" fill="#434a51"/><circle cx="293.2" cy="916.1" r="3.7" fill="#434a51"/><circle cx="296.8" cy="919.3" r="3.7" fill="#434a51"/><circle cx="303.8" cy="914" r="3.7" fill="#434a51"/><circle cx="304.6" cy="923.2" r="3.7" fill="#434a51"/><circle cx="314.4" cy="919.7" r="3.7" fill="#434a51"/><circle cx="317.9" cy="923.4" r="3.7" fill="#434a51"/><circle cx="325.5" cy="921.1" r="3.7" fill="#434a51"/><circle cx="326.7" cy="914" r="3.7" fill="#434a51"/><circle cx="296.8" cy="933.1" r="3.7" fill="#434a51"/><circle cx="301.5" cy="933.1" r="3.7" fill="#434a51"/><circle cx="315" cy="932.6" r="3.7" fill="#434a51"/><circle cx="298.3" cy="952.2" r="3.7" fill="#434a51"/><circle cx="305.6" cy="954.2" r="3.7" fill="#434a51"/><circle cx="327.3" cy="964.9" r="3.7" fill="#434a51"/><circle cx="305" cy="967.1" r="3.7" fill="#434a51"/><circle cx="311.2" cy="970.4" r="3.7" fill="#434a51"/><circle cx="307.9" cy="969.8" r="3.7" fill="#434a51"/><circle cx="265.4" cy="971" r="3.7" fill="#434a51"/><circle cx="260" cy="975.1" r="3.7" fill="#434a51"/><circle cx="255.7" cy="979.8" r="3.7" fill="#434a51"/><circle cx="264.5" cy="981.9" r="3.7" fill="#434a51"/><circle cx="268" cy="985.1" r="3.7" fill="#434a51"/><circle cx="273.9" cy="976.9" r="3.7" fill="#434a51"/><circle cx="280.3" cy="974.5" r="3.7" fill="#434a51"/><circle cx="298.3" cy="976.5" r="3.7" fill="#434a51"/><circle cx="299.7" cy="981.6" r="3.7" fill="#434a51"/><circle cx="305.6" cy="982.2" r="3.7" fill="#434a51"/><circle cx="311.5" cy="980" r="3.7" fill="#434a51"/><circle cx="307.9" cy="989.4" r="3.7" fill="#434a51"/><circle cx="296.2" cy="993.9" r="3.7" fill="#434a51"/><circle cx="323.2" cy="993.3" r="3.7" fill="#434a51"/><circle cx="320.3" cy="996.2" r="3.7" fill="#434a51"/><circle cx="224.5" cy="991" r="3.7" fill="#434a51"/><circle cx="220.1" cy="1000.6" r="3.7" fill="#434a51"/><circle cx="212" cy="1005.4" r="3.7" fill="#434a51"/><circle cx="235.1" cy="995.2" r="3.7" fill="#434a51"/><circle cx="239.8" cy="998" r="3.7" fill="#434a51"/><circle cx="232.2" cy="1000.9" r="3.7" fill="#434a51"/><circle cx="245.1" cy="1000.9" r="3.7" fill="#434a51"/><circle cx="242.1" cy="1003.9" r="3.7" fill="#434a51"/><circle cx="241.6" cy="1007.4" r="3.7" fill="#434a51"/><circle cx="253.3" cy="998.8" r="3.7" fill="#434a51"/><circle cx="260" cy="998.8" r="3.7" fill="#434a51"/><circle cx="266.8" cy="996.5" r="3.7" fill="#434a51"/><circle cx="270.9" cy="999.8" r="3.7" fill="#434a51"/><circle cx="274.8" cy="1006.2" r="3.7" fill="#434a51"/><circle cx="284.4" cy="998.6" r="3.7" fill="#434a51"/><circle cx="290.3" cy="999.2" r="3.7" fill="#434a51"/><circle cx="302.6" cy="1002.7" r="3.7" fill="#434a51"/><circle cx="296.2" cy="1006.2" r="3.7" fill="#434a51"/><circle cx="300.9" cy="1009.2" r="3.7" fill="#434a51"/><circle cx="306.2" cy="1014.5" r="3.7" fill="#434a51"/><circle cx="309.7" cy="1013.3" r="3.7" fill="#434a51"/><circle cx="322.6" cy="1002.7" r="3.7" fill="#434a51"/><circle cx="326.7" cy="1002.7" r="3.7" fill="#434a51"/><circle cx="322" cy="1006.8" r="3.7" fill="#434a51"/><circle cx="327.3" cy="1008" r="3.7" fill="#434a51"/><circle cx="320.3" cy="1015" r="3.7" fill="#434a51"/><circle cx="322" cy="1018" r="3.7" fill="#434a51"/><circle cx="311.5" cy="1021.5" r="3.7" fill="#434a51"/><circle cx="318.9" cy="1034.2" r="3.7" fill="#434a51"/><circle cx="325.8" cy="1049.9" r="3.7" fill="#434a51"/><circle cx="204.3" cy="1012.7" r="3.7" fill="#434a51"/><circle cx="207.5" cy="1016.8" r="3.7" fill="#434a51"/><circle cx="210.4" cy="1013.3" r="3.7" fill="#434a51"/><circle cx="216.3" cy="1013.9" r="3.7" fill="#434a51"/><circle cx="219.8" cy="1016.8" r="3.7" fill="#434a51"/><circle cx="225.7" cy="1015" r="3.7" fill="#434a51"/><circle cx="231.6" cy="1010.9" r="3.7" fill="#434a51"/><circle cx="232.8" cy="1014.5" r="3.7" fill="#434a51"/><circle cx="251.5" cy="1010.9" r="3.7" fill="#434a51"/><circle cx="263.5" cy="1010.6" r="3.7" fill="#434a51"/><circle cx="268.6" cy="1016.2" r="3.7" fill="#434a51"/><circle cx="281.5" cy="1012.7" r="3.7" fill="#434a51"/><circle cx="288.2" cy="1010.9" r="3.7" fill="#434a51"/><circle cx="278.6" cy="1019.2" r="3.7" fill="#434a51"/><circle cx="290.3" cy="1019.2" r="3.7" fill="#434a51"/><circle cx="259.2" cy="1019.2" r="3.7" fill="#434a51"/><circle cx="249.8" cy="1020.3" r="3.7" fill="#434a51"/><circle cx="242.7" cy="1022.7" r="3.7" fill="#434a51"/><circle cx="219.8" cy="1024.4" r="3.7" fill="#434a51"/><circle cx="224.5" cy="1025.6" r="3.7" fill="#434a51"/><circle cx="231" cy="1025.6" r="3.7" fill="#434a51"/><circle cx="270.3" cy="1023.8" r="3.7" fill="#434a51"/><circle cx="276.8" cy="1024.4" r="3.7" fill="#434a51"/><circle cx="284.4" cy="1025.6" r="3.7" fill="#434a51"/><circle cx="297.9" cy="1023.3" r="3.7" fill="#434a51"/><circle cx="299.7" cy="1026.8" r="3.7" fill="#434a51"/><circle cx="266.8" cy="1027.4" r="3.7" fill="#434a51"/><circle cx="252.7" cy="1028" r="3.7" fill="#434a51"/><circle cx="257.4" cy="1029.7" r="3.7" fill="#434a51"/><circle cx="246.8" cy="1027.4" r="3.7" fill="#434a51"/><circle cx="223.4" cy="1030.3" r="3.7" fill="#434a51"/><circle cx="219.2" cy="1033.2" r="3.7" fill="#434a51"/><circle cx="232.8" cy="1031.5" r="3.7" fill="#434a51"/><circle cx="237.5" cy="1033.8" r="3.7" fill="#434a51"/><circle cx="272.7" cy="1029.7" r="3.7" fill="#434a51"/><circle cx="279.7" cy="1030.3" r="3.7" fill="#434a51"/><circle cx="288" cy="1029.7" r="3.7" fill="#434a51"/><circle cx="291.5" cy="1032.1" r="3.7" fill="#434a51"/><circle cx="307.3" cy="1031.5" r="3.7" fill="#434a51"/><circle cx="303.8" cy="1035.6" r="3.7" fill="#434a51"/><circle cx="297.4" cy="1035" r="3.7" fill="#434a51"/><circle cx="284.4" cy="1035.6" r="3.7" fill="#434a51"/><circle cx="277.4" cy="1035" r="3.7" fill="#434a51"/><circle cx="270.3" cy="1036.2" r="3.7" fill="#434a51"/><circle cx="263.3" cy="1033.8" r="3.7" fill="#434a51"/><circle cx="249.2" cy="1037.4" r="3.7" fill="#434a51"/><circle cx="258.6" cy="1038.5" r="3.7" fill="#434a51"/><circle cx="265.6" cy="1040.9" r="3.7" fill="#434a51"/><circle cx="273.9" cy="1039.7" r="3.7" fill="#434a51"/><circle cx="280.9" cy="1041.5" r="3.7" fill="#434a51"/><circle cx="288" cy="1039.7" r="3.7" fill="#434a51"/><circle cx="296.2" cy="1039.1" r="3.7" fill="#434a51"/><circle cx="301.5" cy="1039.7" r="3.7" fill="#434a51"/><circle cx="306.8" cy="1039.1" r="3.7" fill="#434a51"/><circle cx="285" cy="1045.6" r="3.7" fill="#434a51"/><circle cx="171.3" cy="1037.9" r="3.7" fill="#434a51"/><circle cx="183.4" cy="1036.2" r="3.7" fill="#434a51"/><circle cx="188.7" cy="1039.1" r="3.7" fill="#434a51"/><circle cx="193.8" cy="1035.8" r="3.7" fill="#434a51"/><circle cx="201.9" cy="1037.4" r="3.7" fill="#434a51"/><circle cx="200.8" cy="1043.2" r="3.7" fill="#434a51"/><circle cx="210.7" cy="1039.7" r="3.7" fill="#434a51"/><circle cx="218.7" cy="1037.4" r="3.7" fill="#434a51"/><circle cx="225.7" cy="1039.7" r="3.7" fill="#434a51"/><circle cx="232.8" cy="1039.7" r="3.7" fill="#434a51"/><circle cx="239.8" cy="1042.1" r="3.7" fill="#434a51"/><circle cx="221" cy="1045.6" r="3.7" fill="#434a51"/><circle cx="228.1" cy="1045.6" r="3.7" fill="#434a51"/><circle cx="235.1" cy="1045.6" r="3.7" fill="#434a51"/><circle cx="242.1" cy="1046.8" r="3.7" fill="#434a51"/><circle cx="253.9" cy="1046.8" r="3.7" fill="#434a51"/><circle cx="270.3" cy="1049.1" r="3.7" fill="#434a51"/><circle cx="262.1" cy="1050.9" r="3.7" fill="#434a51"/><circle cx="256.2" cy="1052.6" r="3.7" fill="#434a51"/><circle cx="249.2" cy="1051.4" r="3.7" fill="#434a51"/><circle cx="244.5" cy="1056.1" r="3.7" fill="#434a51"/><circle cx="165.3" cy="1052.4" r="3.7" fill="#434a51"/><circle cx="172.3" cy="1056.1" r="3.7" fill="#434a51"/><circle cx="172.9" cy="1058.5" r="3.7" fill="#434a51"/><circle cx="178.7" cy="1057.9" r="3.7" fill="#434a51"/><circle cx="184.6" cy="1057.3" r="3.7" fill="#434a51"/><circle cx="185.8" cy="1053.8" r="3.7" fill="#434a51"/><circle cx="190.5" cy="1049.7" r="3.7" fill="#434a51"/><circle cx="191.6" cy="1058.5" r="3.7" fill="#434a51"/><circle cx="196.3" cy="1052.6" r="3.7" fill="#434a51"/><circle cx="197.5" cy="1058.5" r="3.7" fill="#434a51"/><circle cx="202.2" cy="1053.8" r="3.7" fill="#434a51"/><circle cx="204.6" cy="1057.3" r="3.7" fill="#434a51"/><circle cx="209.3" cy="1052.6" r="3.7" fill="#434a51"/><circle cx="214" cy="1053.8" r="3.7" fill="#434a51"/><circle cx="218.7" cy="1050.3" r="3.7" fill="#434a51"/><circle cx="219.8" cy="1055" r="3.7" fill="#434a51"/><circle cx="223.4" cy="1056.1" r="3.7" fill="#434a51"/><circle cx="225.7" cy="1051.4" r="3.7" fill="#434a51"/><circle cx="230.4" cy="1052.6" r="3.7" fill="#434a51"/><circle cx="232.8" cy="1049.1" r="3.7" fill="#434a51"/><circle cx="237.5" cy="1052.6" r="3.7" fill="#434a51"/><circle cx="239.8" cy="1049.1" r="3.7" fill="#434a51"/></g>
<path d="M127.1 664.2V1078H540.5" fill="none" stroke="#333333" stroke-width="4.0" stroke-linecap="square"/>
<line x1="209" y1="1078" x2="209" y2="1087.7" stroke="#333333" stroke-width="4"/>
<text x="209" y="1114.2" font-size="25.6" fill="#4d4d4d" text-anchor="middle" stroke="#4d4d4d" stroke-width="0.5">0.25</text>
<line x1="322" y1="1078" x2="322" y2="1087.7" stroke="#333333" stroke-width="4"/>
<text x="322" y="1114.2" font-size="25.6" fill="#4d4d4d" text-anchor="middle" stroke="#4d4d4d" stroke-width="0.5">0.50</text>
<line x1="435" y1="1078" x2="435" y2="1087.7" stroke="#333333" stroke-width="4"/>
<text x="435" y="1114.2" font-size="25.6" fill="#4d4d4d" text-anchor="middle" stroke="#4d4d4d" stroke-width="0.5">0.75</text>
<text x="109" y="1073.4" font-size="25.6" fill="#4d4d4d" text-anchor="end" stroke="#4d4d4d" stroke-width="0.5">0.000</text>
<text x="109" y="991.8" font-size="25.6" fill="#4d4d4d" text-anchor="end" stroke="#4d4d4d" stroke-width="0.5">0.001</text>
<text x="109" y="910.2" font-size="25.6" fill="#4d4d4d" text-anchor="end" stroke="#4d4d4d" stroke-width="0.5">0.002</text>
<text x="109" y="828.6" font-size="25.6" fill="#4d4d4d" text-anchor="end" stroke="#4d4d4d" stroke-width="0.5">0.003</text>
<text x="109" y="747" font-size="25.6" fill="#4d4d4d" text-anchor="end" stroke="#4d4d4d" stroke-width="0.5">0.004</text>
<text x="146.3" y="714.8" font-size="29" fill="#000" stroke="#000" word-spacing="-0.6" stroke-width="0.3">R = 0.79, p &lt; 2.2e−16</text>
<text x="28.6" y="870" font-size="29.1" fill="#000" text-anchor="middle" transform="rotate(-90 28.6 870)" stroke="#000" stroke-width="0.5">SNP heterozygosity</text>
<text x="334.3" y="1149.8" font-size="29.1" fill="#000" text-anchor="middle" stroke="#000" stroke-width="0.5">Fraction of heterozygous SVs</text>
<text x="-0.5" y="645" font-size="33.6" fill="#000" font-weight="bold">c</text>
</g>
<g id="panel-d">
<path d="M747.2 987.6H1161M747.2 897.9H1161M747.2 808.2H1161M747.2 718.5H1161" stroke="#d8d8d8" stroke-width="3.9" fill="none"/>
<line x1="747.2" y1="1076.7" x2="1161" y2="1076.7" stroke="#d8d8d8" stroke-width="2.4"/>
<path d="M947.6 716.2L947.4 718.48L947.05 720.75L946.03 723.03L944.12 725.3L942.23 727.58L939.3 729.85L935.43 732.13L931.33 734.4L927.63 736.68L923.94 738.95L920.15 741.23L916.29 743.51L912.23 745.78L907.91 748.06L903.74 750.33L899.72 752.61L896.04 754.88L893.26 757.16L890.99 759.43L889.26 761.71L887.98 763.98L886.95 766.26L886.03 768.54L885.21 770.81L884.62 773.09L884.18 775.36L883.86 777.64L883.67 779.91L883.49 782.19L883.35 784.46L883.25 786.74L883.2 789.02L883.2 791.29L883.2 793.57L883.2 795.84L883.2 798.12L883.2 800.39L883.2 802.67L883.2 804.94L883.2 807.22L883.19 809.49L883.16 811.77L883.1 814.05L883.03 816.32L882.93 818.6L882.82 820.87L882.7 823.15L882.57 825.42L882.44 827.7L882.31 829.97L882.18 832.25L882.05 834.52L881.94 836.8L881.84 839.08L881.75 841.35L881.67 843.63L881.58 845.9L881.5 848.18L881.43 850.45L881.35 852.73L881.27 855L881.2 857.28L881.13 859.55L881.05 861.83L880.98 864.11L880.91 866.38L880.84 868.66L880.76 870.93L880.69 873.21L880.62 875.48L880.55 877.76L880.48 880.03L880.42 882.31L880.37 884.58L880.31 886.86L880.24 889.14L880.17 891.41L880.09 893.69L880 895.96L879.89 898.24L879.72 900.51L879.48 902.79L879.17 905.06L878.82 907.34L878.42 909.62L878.01 911.89L877.58 914.17L877.15 916.44L876.73 918.72L876.33 920.99L875.97 923.27L875.66 925.54L875.34 927.82L875.03 930.09L874.72 932.37L874.41 934.65L874.11 936.92L873.83 939.2L873.56 941.47L873.32 943.75L873.11 946.02L872.92 948.3L872.76 950.57L872.61 952.85L872.47 955.12L872.34 957.4L872.22 959.68L872.1 961.95L871.99 964.23L871.88 966.5L871.78 968.78L871.68 971.05L871.59 973.33L871.5 975.6L871.41 977.88L871.32 980.15L871.23 982.43L871.13 984.71L871.04 986.98L870.95 989.26L870.84 991.53L870.74 993.81L870.63 996.08L870.51 998.36L870.4 1000.63L870.3 1002.91L870.19 1005.18L870.1 1007.46L870.01 1009.74L869.94 1012.01L869.88 1014.29L869.83 1016.56L869.81 1018.84L869.8 1021.11L869.85 1023.39L869.98 1025.66L870.16 1027.94L870.39 1030.22L870.65 1032.49L870.94 1034.77L871.33 1037.04L871.95 1039.32L872.73 1041.59L873.61 1043.87L874.52 1046.14L875.39 1048.42L876.17 1050.69L876.99 1052.97L877.84 1055.25L878.67 1057.52L879.44 1059.8L880.12 1062.07L880.68 1064.35L881.19 1066.62L881.68 1068.9L882.04 1071.17L882.2 1073.45L882.2 1075.72L882.2 1078L838.2 1078L838.2 1075.72L838.2 1073.45L838.36 1071.17L838.72 1068.9L839.21 1066.62L839.72 1064.35L840.28 1062.07L840.96 1059.8L841.73 1057.52L842.56 1055.25L843.41 1052.97L844.23 1050.69L845.01 1048.42L845.88 1046.14L846.79 1043.87L847.67 1041.59L848.45 1039.32L849.07 1037.04L849.46 1034.77L849.75 1032.49L850.01 1030.22L850.24 1027.94L850.42 1025.66L850.55 1023.39L850.6 1021.11L850.59 1018.84L850.57 1016.56L850.52 1014.29L850.46 1012.01L850.39 1009.74L850.3 1007.46L850.21 1005.18L850.1 1002.91L850 1000.63L849.89 998.36L849.77 996.08L849.66 993.81L849.56 991.53L849.45 989.26L849.36 986.98L849.27 984.71L849.17 982.43L849.08 980.15L848.99 977.88L848.9 975.6L848.81 973.33L848.72 971.05L848.62 968.78L848.52 966.5L848.41 964.23L848.3 961.95L848.18 959.68L848.06 957.4L847.93 955.12L847.79 952.85L847.64 950.57L847.48 948.3L847.29 946.02L847.08 943.75L846.84 941.47L846.57 939.2L846.29 936.92L845.99 934.65L845.68 932.37L845.37 930.09L845.06 927.82L844.74 925.54L844.43 923.27L844.07 920.99L843.67 918.72L843.25 916.44L842.82 914.17L842.39 911.89L841.98 909.62L841.58 907.34L841.23 905.06L840.92 902.79L840.68 900.51L840.51 898.24L840.4 895.96L840.31 893.69L840.23 891.41L840.16 889.14L840.09 886.86L840.03 884.58L839.98 882.31L839.92 880.03L839.85 877.76L839.78 875.48L839.71 873.21L839.64 870.93L839.56 868.66L839.49 866.38L839.42 864.11L839.35 861.83L839.27 859.55L839.2 857.28L839.13 855L839.05 852.73L838.97 850.45L838.9 848.18L838.82 845.9L838.73 843.63L838.65 841.35L838.56 839.08L838.46 836.8L838.35 834.52L838.22 832.25L838.09 829.97L837.96 827.7L837.83 825.42L837.7 823.15L837.58 820.87L837.47 818.6L837.37 816.32L837.3 814.05L837.24 811.77L837.21 809.49L837.2 807.22L837.2 804.94L837.2 802.67L837.2 800.39L837.2 798.12L837.2 795.84L837.2 793.57L837.2 791.29L837.2 789.02L837.15 786.74L837.05 784.46L836.91 782.19L836.73 779.91L836.54 777.64L836.22 775.36L835.78 773.09L835.19 770.81L834.37 768.54L833.45 766.26L832.42 763.98L831.14 761.71L829.41 759.43L827.14 757.16L824.36 754.88L820.68 752.61L816.66 750.33L812.49 748.06L808.17 745.78L804.11 743.51L800.25 741.23L796.46 738.95L792.77 736.68L789.07 734.4L784.97 732.13L781.1 729.85L778.17 727.58L776.28 725.3L774.37 723.03L773.35 720.75L773 718.48L772.8 716.2Z" fill="#c8e0f6"/>
<path d="M1135.7 716.28L1133.92 718.55L1131.65 720.82L1124.49 723.1L1112.71 725.37L1100.52 727.65L1088.88 729.92L1078.71 732.2L1071.57 734.47L1065.94 736.75L1061.52 739.02L1059.1 741.3L1057.63 743.57L1057.32 745.85L1057.11 748.12L1056.95 750.4L1056.81 752.67L1056.71 754.95L1056.63 757.22L1056.56 759.5L1056.49 761.77L1056.43 764.05L1056.36 766.32L1056.29 768.6L1056.21 770.87L1056.14 773.15L1056.08 775.42L1056.02 777.7L1055.97 779.97L1055.91 782.25L1055.85 784.52L1055.79 786.8L1055.72 789.07L1055.64 791.35L1055.54 793.62L1055.42 795.89L1055.28 798.17L1055.13 800.44L1054.98 802.72L1054.82 804.99L1054.66 807.27L1054.51 809.54L1054.35 811.82L1054.2 814.09L1054.04 816.37L1053.88 818.64L1053.72 820.92L1053.56 823.19L1053.4 825.47L1053.24 827.74L1053.08 830.02L1052.9 832.29L1052.71 834.57L1052.52 836.84L1052.32 839.12L1052.14 841.39L1051.96 843.67L1051.8 845.94L1051.67 848.22L1051.56 850.49L1051.49 852.77L1051.43 855.04L1051.38 857.32L1051.33 859.59L1051.28 861.87L1051.24 864.14L1051.2 866.41L1051.16 868.69L1051.13 870.96L1051.09 873.24L1051.06 875.51L1051.03 877.79L1051.01 880.06L1050.98 882.34L1050.96 884.61L1050.93 886.89L1050.91 889.16L1050.89 891.44L1050.86 893.71L1050.84 895.99L1050.82 898.26L1050.8 900.54L1050.78 902.81L1050.76 905.09L1050.74 907.36L1050.72 909.64L1050.7 911.91L1050.68 914.19L1050.67 916.46L1050.65 918.74L1050.64 921.01L1050.62 923.29L1050.61 925.56L1050.59 927.84L1050.58 930.11L1050.56 932.39L1050.55 934.66L1050.54 936.94L1050.52 939.21L1050.51 941.48L1050.5 943.76L1050.48 946.03L1050.47 948.31L1050.46 950.58L1050.44 952.86L1050.43 955.13L1050.41 957.41L1050.4 959.68L1050.38 961.96L1050.37 964.23L1050.35 966.51L1050.33 968.78L1050.31 971.06L1050.29 973.33L1050.27 975.61L1050.25 977.88L1050.22 980.16L1050.19 982.43L1050.16 984.71L1050.13 986.98L1050.1 989.26L1050.07 991.53L1050.04 993.81L1050.01 996.08L1049.98 998.36L1049.95 1000.63L1049.92 1002.91L1049.89 1005.18L1049.87 1007.46L1049.85 1009.73L1049.83 1012L1049.82 1014.28L1049.81 1016.55L1049.8 1018.83L1049.8 1021.1L1049.8 1023.38L1049.8 1025.65L1049.8 1027.93L1049.8 1030.2L1049.8 1032.48L1049.8 1034.75L1049.8 1037.03L1049.8 1039.3L1049.8 1041.58L1049.8 1043.85L1049.82 1046.13L1049.93 1048.4L1050.12 1050.68L1050.39 1052.95L1050.71 1055.23L1051.07 1057.5L1051.45 1059.78L1051.85 1062.05L1052.25 1064.33L1052.79 1066.6L1053.44 1068.88L1054.08 1071.15L1054.57 1073.43L1054.86 1075.7L1055.1 1077.98L1040.7 1077.98L1040.94 1075.7L1041.23 1073.43L1041.72 1071.15L1042.36 1068.88L1043.01 1066.6L1043.55 1064.33L1043.95 1062.05L1044.35 1059.78L1044.73 1057.5L1045.09 1055.23L1045.41 1052.95L1045.68 1050.68L1045.87 1048.4L1045.98 1046.13L1046 1043.85L1046 1041.58L1046 1039.3L1046 1037.03L1046 1034.75L1046 1032.48L1046 1030.2L1046 1027.93L1046 1025.65L1046 1023.38L1046 1021.1L1046 1018.83L1045.99 1016.55L1045.98 1014.28L1045.97 1012L1045.95 1009.73L1045.93 1007.46L1045.91 1005.18L1045.88 1002.91L1045.85 1000.63L1045.82 998.36L1045.79 996.08L1045.76 993.81L1045.73 991.53L1045.7 989.26L1045.67 986.98L1045.64 984.71L1045.61 982.43L1045.58 980.16L1045.55 977.88L1045.53 975.61L1045.51 973.33L1045.49 971.06L1045.47 968.78L1045.45 966.51L1045.43 964.23L1045.42 961.96L1045.4 959.68L1045.39 957.41L1045.37 955.13L1045.36 952.86L1045.34 950.58L1045.33 948.31L1045.32 946.03L1045.3 943.76L1045.29 941.48L1045.28 939.21L1045.26 936.94L1045.25 934.66L1045.24 932.39L1045.22 930.11L1045.21 927.84L1045.19 925.56L1045.18 923.29L1045.16 921.01L1045.15 918.74L1045.13 916.46L1045.12 914.19L1045.1 911.91L1045.08 909.64L1045.06 907.36L1045.04 905.09L1045.02 902.81L1045 900.54L1044.98 898.26L1044.96 895.99L1044.94 893.71L1044.91 891.44L1044.89 889.16L1044.87 886.89L1044.84 884.61L1044.82 882.34L1044.79 880.06L1044.77 877.79L1044.74 875.51L1044.71 873.24L1044.67 870.96L1044.64 868.69L1044.6 866.41L1044.56 864.14L1044.52 861.87L1044.47 859.59L1044.42 857.32L1044.37 855.04L1044.31 852.77L1044.24 850.49L1044.13 848.22L1044 845.94L1043.84 843.67L1043.66 841.39L1043.48 839.12L1043.28 836.84L1043.09 834.57L1042.9 832.29L1042.72 830.02L1042.56 827.74L1042.4 825.47L1042.24 823.19L1042.08 820.92L1041.92 818.64L1041.76 816.37L1041.6 814.09L1041.45 811.82L1041.29 809.54L1041.14 807.27L1040.98 804.99L1040.82 802.72L1040.67 800.44L1040.52 798.17L1040.38 795.89L1040.26 793.62L1040.16 791.35L1040.08 789.07L1040.01 786.8L1039.95 784.52L1039.89 782.25L1039.83 779.97L1039.78 777.7L1039.72 775.42L1039.66 773.15L1039.59 770.87L1039.51 768.6L1039.44 766.32L1039.37 764.05L1039.31 761.77L1039.24 759.5L1039.17 757.22L1039.09 754.95L1038.99 752.67L1038.85 750.4L1038.69 748.12L1038.48 745.85L1038.17 743.57L1036.7 741.3L1034.28 739.02L1029.86 736.75L1024.23 734.47L1017.09 732.2L1006.92 729.92L995.28 727.65L983.09 725.37L971.31 723.1L964.15 720.82L961.88 718.55L960.1 716.28Z" fill="#c8e0f6"/>
<line x1="860.2" y1="898.09" x2="860.2" y2="1077.9" stroke="#2f2f31" stroke-width="3.8"/>
<rect x="850.85" y="718.85" width="18.7" height="179.07" fill="#ffffff" stroke="#2f2f31" stroke-width="3.7"/><line x1="850.7" y1="778.32" x2="869.7" y2="778.32" stroke="#2f2f31" stroke-width="7.4"/>
<line x1="1047.9" y1="768.22" x2="1047.9" y2="839.17" stroke="#2f2f31" stroke-width="3.8"/>
<rect x="1038.65" y="717.64" width="18.5" height="49.45" fill="#ffffff" stroke="#2f2f31" stroke-width="3.7"/><line x1="1038.5" y1="718.44" x2="1057.3" y2="718.44" stroke="#2f2f31" stroke-width="7.4"/>
<clipPath id="clipd"><rect x="700" y="600" width="500" height="477.9"/></clipPath>
<g clip-path="url(#clipd)"><circle cx="1047.9" cy="842.29" r="4.7" fill="#2f2f31"/><circle cx="1047.9" cy="849.99" r="4.7" fill="#2f2f31"/><circle cx="1047.9" cy="856" r="4.7" fill="#2f2f31"/><circle cx="1047.9" cy="862.01" r="4.7" fill="#2f2f31"/><circle cx="1047.9" cy="867.3" r="4.7" fill="#2f2f31"/><circle cx="1047.9" cy="876.44" r="4.7" fill="#2f2f31"/><circle cx="1047.9" cy="890.87" r="4.7" fill="#2f2f31"/><circle cx="1047.9" cy="896.88" r="4.7" fill="#2f2f31"/><circle cx="1047.9" cy="905.78" r="4.7" fill="#2f2f31"/><circle cx="1047.9" cy="919.73" r="4.7" fill="#2f2f31"/><circle cx="1047.9" cy="924.54" r="4.7" fill="#2f2f31"/><circle cx="1047.9" cy="934.16" r="4.7" fill="#2f2f31"/><circle cx="1047.9" cy="938.97" r="4.7" fill="#2f2f31"/><circle cx="1047.9" cy="946.67" r="4.7" fill="#2f2f31"/><circle cx="1047.9" cy="959.41" r="4.7" fill="#2f2f31"/><circle cx="1047.9" cy="966.63" r="4.7" fill="#2f2f31"/><circle cx="1047.9" cy="982.26" r="4.7" fill="#2f2f31"/><circle cx="1047.9" cy="987.55" r="4.7" fill="#2f2f31"/><circle cx="1047.9" cy="1003.9" r="4.7" fill="#2f2f31"/><circle cx="1047.9" cy="1047.19" r="4.7" fill="#2f2f31"/><circle cx="1047.9" cy="1077.25" r="4.7" fill="#2f2f31"/></g>
<line x1="859.5" y1="700.4" x2="1048.6" y2="700.4" stroke="#000" stroke-width="2"/>
<text x="955.3" y="693" font-size="24" fill="#000" stroke="#000" stroke-width="0.4" text-anchor="middle" letter-spacing="2.2">****</text>
<text x="729" y="1086.6" font-size="25.6" fill="#4d4d4d" text-anchor="end" stroke="#4d4d4d" stroke-width="0.5">0.00</text>
<text x="729" y="996.9" font-size="25.6" fill="#4d4d4d" text-anchor="end" stroke="#4d4d4d" stroke-width="0.5">0.25</text>
<text x="729" y="907.2" font-size="25.6" fill="#4d4d4d" text-anchor="end" stroke="#4d4d4d" stroke-width="0.5">0.50</text>
<text x="729" y="817.5" font-size="25.6" fill="#4d4d4d" text-anchor="end" stroke="#4d4d4d" stroke-width="0.5">0.75</text>
<text x="729" y="727.8" font-size="25.6" fill="#4d4d4d" text-anchor="end" stroke="#4d4d4d" stroke-width="0.5">1.00</text>
<text x="860.2" y="1114.7" font-size="25.6" fill="#4d4d4d" text-anchor="middle" stroke="#4d4d4d" stroke-width="0.5">Non subtelomeric</text>
<text x="860.2" y="1142.4" font-size="25.6" fill="#4d4d4d" text-anchor="middle" stroke="#4d4d4d" stroke-width="0.5">(n=3,964)</text>
<text x="1047.9" y="1114.7" font-size="25.6" fill="#4d4d4d" text-anchor="middle" stroke="#4d4d4d" stroke-width="0.5">Subtelomeric</text>
<text x="1047.9" y="1142.4" font-size="25.6" fill="#4d4d4d" text-anchor="middle" stroke="#4d4d4d" stroke-width="0.5">(n=911)</text>
<text x="954" y="1178" font-size="29.1" fill="#000" text-anchor="middle" stroke="#000" stroke-width="0.5">Region</text>
<text x="662.5" y="870" font-size="29.1" fill="#000" text-anchor="middle" transform="rotate(-90 662.5 870)" stroke="#000" stroke-width="0.5">SV heterozygosity level</text>
<text x="620" y="645" font-size="33.6" fill="#000" font-weight="bold">d</text>
</g>
<g id="panel-e">
<g transform="translate(0 0.6)"><path d="M1367.3 1058.8H1780.6M1367.3 973.35H1780.6M1367.3 887.9H1780.6M1367.3 802.45H1780.6M1367.3 717H1780.6" stroke="#d8d8d8" stroke-width="3.9" fill="none"/>
<path d="M1472.9 715.8L1472.65 717.96L1472.38 720.12L1471.84 722.28L1470.77 724.45L1469.52 726.61L1468.04 728.77L1466.35 730.93L1464.44 733.09L1462.34 735.25L1460.14 737.42L1457.76 739.58L1455.38 741.74L1453.1 743.9L1450.86 746.06L1448.9 748.22L1447.19 750.39L1445.71 752.55L1444.56 754.71L1443.65 756.87L1442.92 759.03L1442.35 761.19L1441.89 763.36L1441.53 765.52L1441.24 767.68L1440.98 769.84L1440.75 772L1440.56 774.16L1440.38 776.33L1440.23 778.49L1440.1 780.65L1439.97 782.81L1439.87 784.97L1439.77 787.13L1439.7 789.3L1439.64 791.46L1439.59 793.62L1439.55 795.78L1439.51 797.94L1439.46 800.1L1439.41 802.27L1439.35 804.43L1439.28 806.59L1439.2 808.75L1439.11 810.91L1439.02 813.07L1438.92 815.24L1438.82 817.4L1438.71 819.56L1438.61 821.72L1438.5 823.88L1438.39 826.04L1438.28 828.21L1438.18 830.37L1438.08 832.53L1437.98 834.69L1437.88 836.85L1437.79 839.01L1437.71 841.17L1437.64 843.34L1437.56 845.5L1437.49 847.66L1437.42 849.82L1437.35 851.98L1437.29 854.14L1437.22 856.31L1437.16 858.47L1437.1 860.63L1437.04 862.79L1436.98 864.95L1436.92 867.11L1436.86 869.28L1436.79 871.44L1436.73 873.6L1436.67 875.76L1436.61 877.92L1436.55 880.08L1436.48 882.25L1436.42 884.41L1436.35 886.57L1436.28 888.73L1436.21 890.89L1436.14 893.05L1436.07 895.22L1436 897.38L1435.92 899.54L1435.85 901.7L1435.77 903.86L1435.7 906.02L1435.62 908.19L1435.54 910.35L1435.47 912.51L1435.39 914.67L1435.31 916.83L1435.24 918.99L1435.16 921.16L1435.08 923.32L1435.01 925.48L1434.93 927.64L1434.85 929.8L1434.78 931.96L1434.7 934.13L1434.63 936.29L1434.56 938.45L1434.48 940.61L1434.4 942.77L1434.32 944.93L1434.24 947.09L1434.16 949.26L1434.08 951.42L1434 953.58L1433.92 955.74L1433.85 957.9L1433.77 960.06L1433.7 962.23L1433.63 964.39L1433.57 966.55L1433.51 968.71L1433.46 970.87L1433.41 973.03L1433.37 975.2L1433.33 977.36L1433.28 979.52L1433.24 981.68L1433.2 983.84L1433.16 986L1433.12 988.17L1433.08 990.33L1433.04 992.49L1433.01 994.65L1432.98 996.81L1432.96 998.97L1432.94 1001.14L1432.92 1003.3L1432.91 1005.46L1432.9 1007.62L1432.9 1009.78L1432.94 1011.94L1433.01 1014.11L1433.12 1016.27L1433.26 1018.43L1433.42 1020.59L1433.6 1022.75L1433.8 1024.91L1434.01 1027.08L1434.23 1029.24L1434.44 1031.4L1434.66 1033.56L1434.93 1035.72L1435.25 1037.88L1435.6 1040.05L1435.93 1042.21L1436.23 1044.37L1436.48 1046.53L1436.76 1048.69L1437 1050.85L1437.16 1053.02L1437.2 1055.18L1437.2 1057.34L1437.2 1059.5L1416.2 1059.5L1416.2 1057.34L1416.2 1055.18L1416.24 1053.02L1416.4 1050.85L1416.64 1048.69L1416.92 1046.53L1417.17 1044.37L1417.47 1042.21L1417.8 1040.05L1418.15 1037.88L1418.47 1035.72L1418.74 1033.56L1418.96 1031.4L1419.17 1029.24L1419.39 1027.08L1419.6 1024.91L1419.8 1022.75L1419.98 1020.59L1420.14 1018.43L1420.28 1016.27L1420.39 1014.11L1420.46 1011.94L1420.5 1009.78L1420.5 1007.62L1420.49 1005.46L1420.48 1003.3L1420.46 1001.14L1420.44 998.97L1420.42 996.81L1420.39 994.65L1420.36 992.49L1420.32 990.33L1420.28 988.17L1420.24 986L1420.2 983.84L1420.16 981.68L1420.12 979.52L1420.07 977.36L1420.03 975.2L1419.99 973.03L1419.94 970.87L1419.89 968.71L1419.83 966.55L1419.77 964.39L1419.7 962.23L1419.63 960.06L1419.55 957.9L1419.48 955.74L1419.4 953.58L1419.32 951.42L1419.24 949.26L1419.16 947.09L1419.08 944.93L1419 942.77L1418.92 940.61L1418.84 938.45L1418.77 936.29L1418.7 934.13L1418.62 931.96L1418.55 929.8L1418.47 927.64L1418.39 925.48L1418.32 923.32L1418.24 921.16L1418.16 918.99L1418.09 916.83L1418.01 914.67L1417.93 912.51L1417.86 910.35L1417.78 908.19L1417.7 906.02L1417.63 903.86L1417.55 901.7L1417.48 899.54L1417.4 897.38L1417.33 895.22L1417.26 893.05L1417.19 890.89L1417.12 888.73L1417.05 886.57L1416.98 884.41L1416.92 882.25L1416.85 880.08L1416.79 877.92L1416.73 875.76L1416.67 873.6L1416.61 871.44L1416.54 869.28L1416.48 867.11L1416.42 864.95L1416.36 862.79L1416.3 860.63L1416.24 858.47L1416.18 856.31L1416.11 854.14L1416.05 851.98L1415.98 849.82L1415.91 847.66L1415.84 845.5L1415.76 843.34L1415.69 841.17L1415.61 839.01L1415.52 836.85L1415.42 834.69L1415.32 832.53L1415.22 830.37L1415.12 828.21L1415.01 826.04L1414.9 823.88L1414.79 821.72L1414.69 819.56L1414.58 817.4L1414.48 815.24L1414.38 813.07L1414.29 810.91L1414.2 808.75L1414.12 806.59L1414.05 804.43L1413.99 802.27L1413.94 800.1L1413.89 797.94L1413.85 795.78L1413.81 793.62L1413.76 791.46L1413.7 789.3L1413.63 787.13L1413.53 784.97L1413.43 782.81L1413.3 780.65L1413.17 778.49L1413.02 776.33L1412.84 774.16L1412.65 772L1412.42 769.84L1412.16 767.68L1411.87 765.52L1411.51 763.36L1411.05 761.19L1410.48 759.03L1409.75 756.87L1408.84 754.71L1407.69 752.55L1406.21 750.39L1404.5 748.22L1402.54 746.06L1400.3 743.9L1398.02 741.74L1395.64 739.58L1393.26 737.42L1391.06 735.25L1388.96 733.09L1387.05 730.93L1385.36 728.77L1383.88 726.61L1382.63 724.45L1381.56 722.28L1381.02 720.12L1380.75 717.96L1380.5 715.8Z" fill="#a9abc7"/>
<path d="M1571.2 715.8L1571.1 717.96L1570.98 720.12L1570.7 722.28L1570.03 724.45L1569.13 726.61L1567.79 728.77L1566.31 730.93L1564.76 733.09L1563.16 735.25L1561.61 737.42L1560.11 739.58L1558.62 741.74L1557.1 743.9L1555.57 746.06L1554.12 748.22L1552.78 750.39L1551.51 752.55L1550.32 754.71L1549.2 756.87L1548.15 759.03L1547.16 761.19L1546.21 763.36L1545.45 765.52L1544.91 767.68L1544.47 769.84L1544.15 772L1543.88 774.16L1543.68 776.33L1543.55 778.49L1543.45 780.65L1543.37 782.81L1543.3 784.97L1543.25 787.13L1543.2 789.3L1543.16 791.46L1543.13 793.62L1543.1 795.78L1543.08 797.94L1543.05 800.1L1543.01 802.27L1542.95 804.43L1542.88 806.59L1542.79 808.75L1542.68 810.91L1542.55 813.07L1542.41 815.24L1542.26 817.4L1542.1 819.56L1541.93 821.72L1541.75 823.88L1541.57 826.04L1541.39 828.21L1541.2 830.37L1541.02 832.53L1540.84 834.69L1540.66 836.85L1540.49 839.01L1540.32 841.17L1540.17 843.34L1540 845.5L1539.84 847.66L1539.68 849.82L1539.51 851.98L1539.35 854.14L1539.18 856.31L1539.01 858.47L1538.84 860.63L1538.67 862.79L1538.5 864.95L1538.33 867.11L1538.16 869.28L1538 871.44L1537.83 873.6L1537.66 875.76L1537.49 877.92L1537.32 880.08L1537.15 882.25L1536.99 884.41L1536.82 886.57L1536.66 888.73L1536.5 890.89L1536.33 893.05L1536.16 895.22L1536 897.38L1535.83 899.54L1535.66 901.7L1535.49 903.86L1535.32 906.02L1535.16 908.19L1534.99 910.35L1534.82 912.51L1534.66 914.67L1534.5 916.83L1534.34 918.99L1534.18 921.16L1534.02 923.32L1533.87 925.48L1533.72 927.64L1533.57 929.8L1533.43 931.96L1533.29 934.13L1533.16 936.29L1533.02 938.45L1532.89 940.61L1532.75 942.77L1532.62 944.93L1532.48 947.09L1532.35 949.26L1532.21 951.42L1532.08 953.58L1531.96 955.74L1531.83 957.9L1531.72 960.06L1531.61 962.23L1531.51 964.39L1531.42 966.55L1531.34 968.71L1531.27 970.87L1531.21 973.03L1531.16 975.2L1531.12 977.36L1531.07 979.52L1531.03 981.68L1530.98 983.84L1530.94 986L1530.9 988.17L1530.87 990.33L1530.83 992.49L1530.8 994.65L1530.78 996.81L1530.75 998.97L1530.73 1001.14L1530.72 1003.3L1530.71 1005.46L1530.7 1007.62L1530.71 1009.78L1530.79 1011.94L1530.96 1014.11L1531.2 1016.27L1531.49 1018.43L1531.82 1020.59L1532.18 1022.75L1532.55 1024.91L1532.92 1027.08L1533.28 1029.24L1533.71 1031.4L1534.2 1033.56L1534.72 1035.72L1535.24 1037.88L1535.73 1040.05L1536.15 1042.21L1536.54 1044.37L1536.95 1046.53L1537.34 1048.69L1537.66 1050.85L1537.86 1053.02L1537.9 1055.18L1537.9 1057.34L1537.9 1059.5L1512.1 1059.5L1512.1 1057.34L1512.1 1055.18L1512.14 1053.02L1512.34 1050.85L1512.66 1048.69L1513.05 1046.53L1513.46 1044.37L1513.85 1042.21L1514.27 1040.05L1514.76 1037.88L1515.28 1035.72L1515.8 1033.56L1516.29 1031.4L1516.72 1029.24L1517.08 1027.08L1517.45 1024.91L1517.82 1022.75L1518.18 1020.59L1518.51 1018.43L1518.8 1016.27L1519.04 1014.11L1519.21 1011.94L1519.29 1009.78L1519.3 1007.62L1519.29 1005.46L1519.28 1003.3L1519.27 1001.14L1519.25 998.97L1519.22 996.81L1519.2 994.65L1519.17 992.49L1519.13 990.33L1519.1 988.17L1519.06 986L1519.02 983.84L1518.97 981.68L1518.93 979.52L1518.88 977.36L1518.84 975.2L1518.79 973.03L1518.73 970.87L1518.66 968.71L1518.58 966.55L1518.49 964.39L1518.39 962.23L1518.28 960.06L1518.17 957.9L1518.04 955.74L1517.92 953.58L1517.79 951.42L1517.65 949.26L1517.52 947.09L1517.38 944.93L1517.25 942.77L1517.11 940.61L1516.98 938.45L1516.84 936.29L1516.71 934.13L1516.57 931.96L1516.43 929.8L1516.28 927.64L1516.13 925.48L1515.98 923.32L1515.82 921.16L1515.66 918.99L1515.5 916.83L1515.34 914.67L1515.18 912.51L1515.01 910.35L1514.84 908.19L1514.68 906.02L1514.51 903.86L1514.34 901.7L1514.17 899.54L1514 897.38L1513.84 895.22L1513.67 893.05L1513.5 890.89L1513.34 888.73L1513.18 886.57L1513.01 884.41L1512.85 882.25L1512.68 880.08L1512.51 877.92L1512.34 875.76L1512.17 873.6L1512 871.44L1511.84 869.28L1511.67 867.11L1511.5 864.95L1511.33 862.79L1511.16 860.63L1510.99 858.47L1510.82 856.31L1510.65 854.14L1510.49 851.98L1510.32 849.82L1510.16 847.66L1510 845.5L1509.83 843.34L1509.68 841.17L1509.51 839.01L1509.34 836.85L1509.16 834.69L1508.98 832.53L1508.8 830.37L1508.61 828.21L1508.43 826.04L1508.25 823.88L1508.07 821.72L1507.9 819.56L1507.74 817.4L1507.59 815.24L1507.45 813.07L1507.32 810.91L1507.21 808.75L1507.12 806.59L1507.05 804.43L1506.99 802.27L1506.95 800.1L1506.92 797.94L1506.9 795.78L1506.87 793.62L1506.84 791.46L1506.8 789.3L1506.75 787.13L1506.7 784.97L1506.63 782.81L1506.55 780.65L1506.45 778.49L1506.32 776.33L1506.12 774.16L1505.85 772L1505.53 769.84L1505.09 767.68L1504.55 765.52L1503.79 763.36L1502.84 761.19L1501.85 759.03L1500.8 756.87L1499.68 754.71L1498.49 752.55L1497.22 750.39L1495.88 748.22L1494.43 746.06L1492.9 743.9L1491.38 741.74L1489.89 739.58L1488.39 737.42L1486.84 735.25L1485.24 733.09L1483.69 730.93L1482.21 728.77L1480.87 726.61L1479.97 724.45L1479.3 722.28L1479.02 720.12L1478.9 717.96L1478.8 715.8Z" fill="#e8c5aa"/>
<path d="M1669.3 715.8L1668.62 717.96L1667.24 720.12L1664.8 722.28L1661.41 724.45L1657.56 726.61L1653.5 728.77L1649.38 730.93L1645.15 733.09L1641.21 735.25L1637.67 737.42L1634.67 739.58L1632.33 741.74L1630.55 743.9L1629.69 746.06L1629.17 748.22L1628.87 750.39L1628.64 752.55L1628.45 754.71L1628.29 756.87L1628.15 759.03L1628.03 761.19L1627.92 763.36L1627.81 765.52L1627.7 767.68L1627.61 769.84L1627.52 772L1627.44 774.16L1627.35 776.33L1627.26 778.49L1627.15 780.65L1627.04 782.81L1626.93 784.97L1626.81 787.13L1626.7 789.3L1626.59 791.46L1626.49 793.62L1626.41 795.78L1626.34 797.94L1626.3 800.1L1626.26 802.27L1626.23 804.43L1626.19 806.59L1626.16 808.75L1626.13 810.91L1626.1 813.07L1626.07 815.24L1626.05 817.4L1626.02 819.56L1626 821.72L1625.98 823.88L1625.96 826.04L1625.95 828.21L1625.93 830.37L1625.92 832.53L1625.91 834.69L1625.91 836.85L1625.9 839.01L1625.9 841.17L1625.9 843.34L1625.91 845.5L1625.91 847.66L1625.93 849.82L1625.94 851.98L1625.95 854.14L1625.97 856.31L1625.99 858.47L1626.01 860.63L1626.03 862.79L1626.05 864.95L1626.07 867.11L1626.09 869.28L1626.11 871.44L1626.13 873.6L1626.15 875.76L1626.16 877.92L1626.18 880.08L1626.19 882.25L1626.19 884.41L1626.2 886.57L1626.2 888.73L1626.19 890.89L1626.18 893.05L1626.17 895.22L1626.15 897.38L1626.12 899.54L1626.09 901.7L1626.06 903.86L1626.02 906.02L1625.98 908.19L1625.95 910.35L1625.91 912.51L1625.87 914.67L1625.83 916.83L1625.79 918.99L1625.76 921.16L1625.73 923.32L1625.7 925.48L1625.67 927.64L1625.64 929.8L1625.61 931.96L1625.58 934.13L1625.55 936.29L1625.51 938.45L1625.48 940.61L1625.45 942.77L1625.41 944.93L1625.38 947.09L1625.35 949.26L1625.31 951.42L1625.28 953.58L1625.24 955.74L1625.21 957.9L1625.17 960.06L1625.14 962.23L1625.11 964.39L1625.08 966.55L1625.04 968.71L1625.01 970.87L1624.98 973.03L1624.95 975.2L1624.93 977.36L1624.9 979.52L1624.87 981.68L1624.85 983.84L1624.83 986L1624.81 988.17L1624.79 990.33L1624.77 992.49L1624.75 994.65L1624.74 996.81L1624.73 998.97L1624.72 1001.14L1624.71 1003.3L1624.7 1005.46L1624.7 1007.62L1624.7 1009.78L1624.71 1011.94L1624.73 1014.11L1624.77 1016.27L1624.81 1018.43L1624.87 1020.59L1624.93 1022.75L1625.01 1024.91L1625.1 1027.08L1625.2 1029.24L1625.31 1031.4L1625.43 1033.56L1625.56 1035.72L1625.71 1037.88L1626.07 1040.05L1626.72 1042.21L1627.46 1044.37L1628.13 1046.53L1628.55 1048.69L1628.6 1050.85L1628.6 1053.02L1628.6 1055.18L1628.57 1057.34L1628.1 1059.5L1618.5 1059.5L1618.03 1057.34L1618 1055.18L1618 1053.02L1618 1050.85L1618.05 1048.69L1618.47 1046.53L1619.14 1044.37L1619.88 1042.21L1620.53 1040.05L1620.89 1037.88L1621.04 1035.72L1621.17 1033.56L1621.29 1031.4L1621.4 1029.24L1621.5 1027.08L1621.59 1024.91L1621.67 1022.75L1621.73 1020.59L1621.79 1018.43L1621.83 1016.27L1621.87 1014.11L1621.89 1011.94L1621.9 1009.78L1621.9 1007.62L1621.9 1005.46L1621.89 1003.3L1621.88 1001.14L1621.87 998.97L1621.86 996.81L1621.85 994.65L1621.83 992.49L1621.81 990.33L1621.79 988.17L1621.77 986L1621.75 983.84L1621.73 981.68L1621.7 979.52L1621.67 977.36L1621.65 975.2L1621.62 973.03L1621.59 970.87L1621.56 968.71L1621.52 966.55L1621.49 964.39L1621.46 962.23L1621.43 960.06L1621.39 957.9L1621.36 955.74L1621.32 953.58L1621.29 951.42L1621.25 949.26L1621.22 947.09L1621.19 944.93L1621.15 942.77L1621.12 940.61L1621.09 938.45L1621.05 936.29L1621.02 934.13L1620.99 931.96L1620.96 929.8L1620.93 927.64L1620.9 925.48L1620.87 923.32L1620.84 921.16L1620.81 918.99L1620.77 916.83L1620.73 914.67L1620.69 912.51L1620.65 910.35L1620.62 908.19L1620.58 906.02L1620.54 903.86L1620.51 901.7L1620.48 899.54L1620.45 897.38L1620.43 895.22L1620.42 893.05L1620.41 890.89L1620.4 888.73L1620.4 886.57L1620.41 884.41L1620.41 882.25L1620.42 880.08L1620.44 877.92L1620.45 875.76L1620.47 873.6L1620.49 871.44L1620.51 869.28L1620.53 867.11L1620.55 864.95L1620.57 862.79L1620.59 860.63L1620.61 858.47L1620.63 856.31L1620.65 854.14L1620.66 851.98L1620.67 849.82L1620.69 847.66L1620.69 845.5L1620.7 843.34L1620.7 841.17L1620.7 839.01L1620.69 836.85L1620.69 834.69L1620.68 832.53L1620.67 830.37L1620.65 828.21L1620.64 826.04L1620.62 823.88L1620.6 821.72L1620.58 819.56L1620.55 817.4L1620.53 815.24L1620.5 813.07L1620.47 810.91L1620.44 808.75L1620.41 806.59L1620.37 804.43L1620.34 802.27L1620.3 800.1L1620.26 797.94L1620.19 795.78L1620.11 793.62L1620.01 791.46L1619.9 789.3L1619.79 787.13L1619.67 784.97L1619.56 782.81L1619.45 780.65L1619.34 778.49L1619.25 776.33L1619.16 774.16L1619.08 772L1618.99 769.84L1618.9 767.68L1618.79 765.52L1618.68 763.36L1618.57 761.19L1618.45 759.03L1618.31 756.87L1618.15 754.71L1617.96 752.55L1617.73 750.39L1617.43 748.22L1616.91 746.06L1616.05 743.9L1614.27 741.74L1611.93 739.58L1608.93 737.42L1605.39 735.25L1601.45 733.09L1597.22 730.93L1593.1 728.77L1589.04 726.61L1585.19 724.45L1581.8 722.28L1579.36 720.12L1577.98 717.96L1577.3 715.8Z" fill="#f3dfa7"/>
<path d="M1767.9 715.8L1767.62 717.96L1767.3 720.12L1766.7 722.28L1765.53 724.45L1764.18 726.61L1762.59 728.77L1760.84 730.93L1758.93 733.09L1756.89 735.25L1754.82 737.42L1752.67 739.58L1750.54 741.74L1748.52 743.9L1746.56 746.06L1744.69 748.22L1742.91 750.39L1741.2 752.55L1739.57 754.71L1737.96 756.87L1736.47 759.03L1735.21 761.19L1734.09 763.36L1733.08 765.52L1732.16 767.68L1731.33 769.84L1730.56 772L1729.84 774.16L1729.2 776.33L1728.68 778.49L1728.27 780.65L1727.89 782.81L1727.48 784.97L1727.07 787.13L1726.79 789.3L1726.65 791.46L1726.53 793.62L1726.44 795.78L1726.37 797.94L1726.3 800.1L1726.23 802.27L1726.16 804.43L1726.09 806.59L1726.03 808.75L1725.98 810.91L1725.92 813.07L1725.87 815.24L1725.82 817.4L1725.77 819.56L1725.72 821.72L1725.67 823.88L1725.63 826.04L1725.58 828.21L1725.54 830.37L1725.49 832.53L1725.45 834.69L1725.4 836.85L1725.36 839.01L1725.31 841.17L1725.26 843.34L1725.21 845.5L1725.15 847.66L1725.1 849.82L1725.04 851.98L1724.99 854.14L1724.93 856.31L1724.88 858.47L1724.82 860.63L1724.77 862.79L1724.72 864.95L1724.67 867.11L1724.62 869.28L1724.57 871.44L1724.52 873.6L1724.48 875.76L1724.44 877.92L1724.4 880.08L1724.37 882.25L1724.34 884.41L1724.32 886.57L1724.3 888.73L1724.28 890.89L1724.26 893.05L1724.24 895.22L1724.22 897.38L1724.2 899.54L1724.18 901.7L1724.16 903.86L1724.15 906.02L1724.13 908.19L1724.11 910.35L1724.1 912.51L1724.08 914.67L1724.07 916.83L1724.05 918.99L1724.04 921.16L1724.03 923.32L1724.01 925.48L1724 927.64L1723.99 929.8L1723.98 931.96L1723.97 934.13L1723.96 936.29L1723.95 938.45L1723.94 940.61L1723.93 942.77L1723.93 944.93L1723.92 947.09L1723.91 949.26L1723.91 951.42L1723.91 953.58L1723.9 955.74L1723.9 957.9L1723.9 960.06L1723.9 962.23L1723.9 964.39L1723.91 966.55L1723.91 968.71L1723.92 970.87L1723.93 973.03L1723.94 975.2L1723.95 977.36L1723.96 979.52L1723.98 981.68L1724 983.84L1724.01 986L1724.04 988.17L1724.06 990.33L1724.08 992.49L1724.1 994.65L1724.13 996.81L1724.16 998.97L1724.19 1001.14L1724.22 1003.3L1724.25 1005.46L1724.28 1007.62L1724.31 1009.78L1724.37 1011.94L1724.45 1014.11L1724.55 1016.27L1724.67 1018.43L1724.8 1020.59L1724.93 1022.75L1725.06 1024.91L1725.19 1027.08L1725.32 1029.24L1725.43 1031.4L1725.52 1033.56L1725.62 1035.72L1725.73 1037.88L1725.83 1040.05L1725.94 1042.21L1726.03 1044.37L1726.1 1046.53L1726.16 1048.69L1726.19 1050.85L1726.2 1053.02L1726.2 1055.18L1726.2 1057.34L1726.2 1059.5L1717.2 1059.5L1717.2 1057.34L1717.2 1055.18L1717.2 1053.02L1717.21 1050.85L1717.24 1048.69L1717.3 1046.53L1717.37 1044.37L1717.46 1042.21L1717.57 1040.05L1717.67 1037.88L1717.78 1035.72L1717.88 1033.56L1717.97 1031.4L1718.08 1029.24L1718.21 1027.08L1718.34 1024.91L1718.47 1022.75L1718.6 1020.59L1718.73 1018.43L1718.85 1016.27L1718.95 1014.11L1719.03 1011.94L1719.09 1009.78L1719.12 1007.62L1719.15 1005.46L1719.18 1003.3L1719.21 1001.14L1719.24 998.97L1719.27 996.81L1719.3 994.65L1719.32 992.49L1719.34 990.33L1719.36 988.17L1719.39 986L1719.4 983.84L1719.42 981.68L1719.44 979.52L1719.45 977.36L1719.46 975.2L1719.47 973.03L1719.48 970.87L1719.49 968.71L1719.49 966.55L1719.5 964.39L1719.5 962.23L1719.5 960.06L1719.5 957.9L1719.5 955.74L1719.49 953.58L1719.49 951.42L1719.49 949.26L1719.48 947.09L1719.47 944.93L1719.47 942.77L1719.46 940.61L1719.45 938.45L1719.44 936.29L1719.43 934.13L1719.42 931.96L1719.41 929.8L1719.4 927.64L1719.39 925.48L1719.37 923.32L1719.36 921.16L1719.35 918.99L1719.33 916.83L1719.32 914.67L1719.3 912.51L1719.29 910.35L1719.27 908.19L1719.25 906.02L1719.24 903.86L1719.22 901.7L1719.2 899.54L1719.18 897.38L1719.16 895.22L1719.14 893.05L1719.12 890.89L1719.1 888.73L1719.08 886.57L1719.06 884.41L1719.03 882.25L1719 880.08L1718.96 877.92L1718.92 875.76L1718.88 873.6L1718.83 871.44L1718.78 869.28L1718.73 867.11L1718.68 864.95L1718.63 862.79L1718.58 860.63L1718.52 858.47L1718.47 856.31L1718.41 854.14L1718.36 851.98L1718.3 849.82L1718.25 847.66L1718.19 845.5L1718.14 843.34L1718.09 841.17L1718.04 839.01L1718 836.85L1717.95 834.69L1717.91 832.53L1717.86 830.37L1717.82 828.21L1717.77 826.04L1717.73 823.88L1717.68 821.72L1717.63 819.56L1717.58 817.4L1717.53 815.24L1717.48 813.07L1717.42 810.91L1717.37 808.75L1717.31 806.59L1717.24 804.43L1717.17 802.27L1717.1 800.1L1717.03 797.94L1716.96 795.78L1716.87 793.62L1716.75 791.46L1716.61 789.3L1716.33 787.13L1715.92 784.97L1715.51 782.81L1715.13 780.65L1714.72 778.49L1714.2 776.33L1713.56 774.16L1712.84 772L1712.07 769.84L1711.24 767.68L1710.32 765.52L1709.31 763.36L1708.19 761.19L1706.93 759.03L1705.44 756.87L1703.83 754.71L1702.2 752.55L1700.49 750.39L1698.71 748.22L1696.84 746.06L1694.88 743.9L1692.86 741.74L1690.73 739.58L1688.58 737.42L1686.51 735.25L1684.47 733.09L1682.56 730.93L1680.81 728.77L1679.22 726.61L1677.87 724.45L1676.7 722.28L1676.1 720.12L1675.78 717.96L1675.5 715.8Z" fill="#434a51"/>
<line x1="1426.7" y1="889.37" x2="1426.7" y2="1058.85" stroke="#2f2f31" stroke-width="3.8"/>
<rect x="1421.5" y="716.71" width="10.4" height="171.78" fill="#ffffff" stroke="#2f2f31" stroke-width="3.2"/><line x1="1421.6" y1="763.22" x2="1431.8" y2="763.22" stroke="#2f2f31" stroke-width="7.4"/>
<line x1="1525" y1="875.01" x2="1525" y2="1058.85" stroke="#2f2f31" stroke-width="3.8"/>
<rect x="1519.8" y="716.71" width="10.4" height="157.9" fill="#ffffff" stroke="#2f2f31" stroke-width="3.2"/><line x1="1519.9" y1="766.1" x2="1530.1" y2="766.1" stroke="#2f2f31" stroke-width="7.4"/>
<line x1="1623.3" y1="767.29" x2="1623.3" y2="839.11" stroke="#2f2f31" stroke-width="3.8"/>
<rect x="1618.1" y="715.27" width="10.4" height="51.14" fill="#ffffff" stroke="#2f2f31" stroke-width="3.2"/><line x1="1618.2" y1="717.02" x2="1628.4" y2="717.02" stroke="#2f2f31" stroke-width="7.4"/>
<circle cx="1623.3" cy="842.22" r="4.3" fill="#2f2f31"/><circle cx="1623.3" cy="854.19" r="4.3" fill="#2f2f31"/><circle cx="1623.3" cy="868.07" r="4.3" fill="#2f2f31"/><circle cx="1623.3" cy="881.71" r="4.3" fill="#2f2f31"/><circle cx="1623.3" cy="888.18" r="4.3" fill="#2f2f31"/><circle cx="1623.3" cy="903.74" r="4.3" fill="#2f2f31"/><circle cx="1623.3" cy="909.24" r="4.3" fill="#2f2f31"/><circle cx="1623.3" cy="922.89" r="4.3" fill="#2f2f31"/><circle cx="1623.3" cy="927.67" r="4.3" fill="#2f2f31"/><circle cx="1623.3" cy="966.45" r="4.3" fill="#2f2f31"/><circle cx="1623.3" cy="973.15" r="4.3" fill="#2f2f31"/><circle cx="1623.3" cy="1058.85" r="4.3" fill="#2f2f31"/>
<line x1="1717.2" y1="717.02" x2="1726.2" y2="717.02" stroke="#2f2f31" stroke-width="7"/>
<line x1="1721.7" y1="724.21" x2="1721.7" y2="760.11" stroke="#2f2f31" stroke-width="8.6" stroke-linecap="round"/>
<circle cx="1721.7" cy="774" r="4.3" fill="#2f2f31"/><circle cx="1721.7" cy="785.25" r="4.3" fill="#2f2f31"/><circle cx="1721.7" cy="793.62" r="4.3" fill="#2f2f31"/><circle cx="1721.7" cy="803.2" r="4.3" fill="#2f2f31"/><circle cx="1721.7" cy="812.77" r="4.3" fill="#2f2f31"/><circle cx="1721.7" cy="822.35" r="4.3" fill="#2f2f31"/><circle cx="1721.7" cy="831.92" r="4.3" fill="#2f2f31"/><circle cx="1721.7" cy="843.41" r="4.3" fill="#2f2f31"/><circle cx="1721.7" cy="854.19" r="4.3" fill="#2f2f31"/><circle cx="1721.7" cy="868.07" r="4.3" fill="#2f2f31"/><circle cx="1721.7" cy="888.18" r="4.3" fill="#2f2f31"/><circle cx="1721.7" cy="955.2" r="4.3" fill="#2f2f31"/><circle cx="1721.7" cy="1058.85" r="4.3" fill="#2f2f31"/>
<text x="1426.7" y="693.9" font-size="29" fill="#000" text-anchor="middle" stroke="#000" stroke-width="0.2">A</text>
<text x="1525" y="693.9" font-size="29" fill="#000" text-anchor="middle" stroke="#000" stroke-width="0.2">A</text>
<text x="1623.3" y="693.9" font-size="29" fill="#000" text-anchor="middle" stroke="#000" stroke-width="0.2">B</text>
<text x="1721.7" y="693.9" font-size="29" fill="#000" text-anchor="middle" stroke="#000" stroke-width="0.2">C</text>
<text x="1349.5" y="1068.1" font-size="25.6" fill="#4d4d4d" text-anchor="end" stroke="#4d4d4d" stroke-width="0.5">0.00</text>
<text x="1349.5" y="982.65" font-size="25.6" fill="#4d4d4d" text-anchor="end" stroke="#4d4d4d" stroke-width="0.5">0.25</text>
<text x="1349.5" y="897.2" font-size="25.6" fill="#4d4d4d" text-anchor="end" stroke="#4d4d4d" stroke-width="0.5">0.50</text>
<text x="1349.5" y="811.75" font-size="25.6" fill="#4d4d4d" text-anchor="end" stroke="#4d4d4d" stroke-width="0.5">0.75</text>
<text x="1349.5" y="726.3" font-size="25.6" fill="#4d4d4d" text-anchor="end" stroke="#4d4d4d" stroke-width="0.5">1.00</text></g>
<g transform="translate(1426.7 1096) rotate(-30)"><text x="0" y="18.3" font-size="25.5" fill="#4d4d4d" text-anchor="end" stroke="#4d4d4d" stroke-width="0.5">PAV</text><text x="0" y="45.8" font-size="25.5" fill="#4d4d4d" text-anchor="end" stroke="#4d4d4d" stroke-width="0.5">(n=3,470)</text></g>
<g transform="translate(1525 1096) rotate(-30)"><text x="0" y="18.3" font-size="25.5" fill="#4d4d4d" text-anchor="end" stroke="#4d4d4d" stroke-width="0.5">CNV</text><text x="0" y="45.8" font-size="25.5" fill="#4d4d4d" text-anchor="end" stroke="#4d4d4d" stroke-width="0.5">(n=953)</text></g>
<g transform="translate(1623.3 1096) rotate(-30)"><text x="0" y="18.3" font-size="25.5" fill="#4d4d4d" text-anchor="end" stroke="#4d4d4d" stroke-width="0.5">INV</text><text x="0" y="45.8" font-size="25.5" fill="#4d4d4d" text-anchor="end" stroke="#4d4d4d" stroke-width="0.5">(n=177)</text></g>
<g transform="translate(1721.7 1096) rotate(-30)"><text x="0" y="18.3" font-size="25.5" fill="#4d4d4d" text-anchor="end" stroke="#4d4d4d" stroke-width="0.5">TRA</text><text x="0" y="45.8" font-size="25.5" fill="#4d4d4d" text-anchor="end" stroke="#4d4d4d" stroke-width="0.5">(n=275)</text></g>
<text x="1574" y="1226.5" font-size="29.1" fill="#000" text-anchor="middle" stroke="#000" stroke-width="0.5">SV Type</text>
<text x="1283" y="871.5" font-size="29.1" fill="#000" text-anchor="middle" transform="rotate(-90 1283 871.5)" stroke="#000" stroke-width="0.5">SV heterozygosity level</text>
<text x="1241" y="645" font-size="33.6" fill="#000" font-weight="bold">e</text>
</g>
<g id="panel-f">
<path d="M178.4 1303.44V1547.69M187.8 1303.44V1498.5M197.19 1303.44V1512.31M206.59 1303.44V1489.4M215.99 1303.44V1450.66M225.38 1303.44V1519.05M234.78 1303.44V1493.78M244.18 1303.44V1431.46M253.57 1303.44V1547.35M262.97 1303.44V1502.21M272.37 1303.44V1448.3M281.77 1303.44V1539.26M291.16 1303.44V1448.98M300.56 1303.44V1413.6M309.96 1303.44V1351.95M319.35 1303.44V1498.16M328.75 1303.44V1537.24M338.15 1303.44V1415.96M347.54 1303.44V1385.64M356.94 1303.44V1381.6M366.34 1303.44V1346.23M375.74 1303.44V1362.06M385.13 1303.44V1565.54M394.53 1303.44V1454.03M403.93 1303.44V1396.42M413.32 1303.44V1394.07M422.72 1303.44V1355.32M441.51 1303.44V1522.42M450.91 1303.44V1523.09M460.31 1303.44V1411.92M488.5 1339.83V1651.11M497.9 1303.44V1351.95M507.29 1303.44V1378.23M516.69 1303.44V1397.43M535.48 1303.44V1368.12M563.68 1303.44V1373.18M601.26 1303.44V1679.41M620.06 1305.8V1449.99M648.25 1303.44V1430.79M732.82 1303.44V1679.41M808 1303.44V1454.71M920.76 1400.8V1527.14M958.35 1303.44V1328.71M1014.73 1337.13V1679.41M1052.32 1303.44V1331.74" stroke="#000" stroke-width="2.3" fill="none"/>
<g><circle cx="178.4" cy="1417.98" r="5.3" fill="#000"/><circle cx="187.8" cy="1383.62" r="5.3" fill="#000"/><circle cx="197.19" cy="1390.36" r="5.3" fill="#000"/><circle cx="206.59" cy="1370.15" r="5.3" fill="#000"/><circle cx="215.99" cy="1354.99" r="5.3" fill="#000"/><circle cx="225.38" cy="1403.16" r="5.3" fill="#000"/><circle cx="234.78" cy="1387.33" r="5.3" fill="#000"/><circle cx="244.18" cy="1349.6" r="5.3" fill="#000"/><circle cx="253.57" cy="1404.85" r="5.3" fill="#000"/><circle cx="262.97" cy="1384.63" r="5.3" fill="#000"/><circle cx="272.37" cy="1358.69" r="5.3" fill="#000"/><circle cx="281.77" cy="1405.86" r="5.3" fill="#000"/><circle cx="291.16" cy="1359.7" r="5.3" fill="#000"/><circle cx="300.56" cy="1349.26" r="5.3" fill="#000"/><circle cx="309.96" cy="1322.64" r="5.3" fill="#000"/><circle cx="319.35" cy="1374.86" r="5.3" fill="#000"/><circle cx="328.75" cy="1403.16" r="5.3" fill="#000"/><circle cx="338.15" cy="1336.46" r="5.3" fill="#000"/><circle cx="347.54" cy="1330.06" r="5.3" fill="#000"/><circle cx="356.94" cy="1323.66" r="5.3" fill="#000"/><circle cx="366.34" cy="1317.93" r="5.3" fill="#000"/><circle cx="375.74" cy="1323.66" r="5.3" fill="#000"/><circle cx="385.13" cy="1404.51" r="5.3" fill="#000"/><circle cx="394.53" cy="1347.91" r="5.3" fill="#000"/><circle cx="403.93" cy="1330.39" r="5.3" fill="#000"/><circle cx="413.32" cy="1340.16" r="5.3" fill="#000"/><circle cx="422.72" cy="1321.63" r="5.3" fill="#000"/><circle cx="432.12" cy="1303.44" r="5.3" fill="#000"/><circle cx="441.51" cy="1405.86" r="5.3" fill="#000"/><circle cx="450.91" cy="1386.32" r="5.3" fill="#000"/><circle cx="460.31" cy="1342.86" r="5.3" fill="#000"/><circle cx="469.71" cy="1303.44" r="5.3" fill="#000"/><circle cx="479.1" cy="1303.44" r="5.3" fill="#000"/><circle cx="488.5" cy="1495.81" r="5.3" fill="#000"/><circle cx="497.9" cy="1318.6" r="5.3" fill="#000"/><circle cx="507.29" cy="1329.38" r="5.3" fill="#000"/><circle cx="516.69" cy="1335.11" r="5.3" fill="#000"/><circle cx="526.09" cy="1303.44" r="5.3" fill="#000"/><circle cx="535.48" cy="1330.39" r="5.3" fill="#000"/><circle cx="554.28" cy="1303.44" r="5.3" fill="#000"/><circle cx="563.68" cy="1322.64" r="5.3" fill="#000"/><circle cx="582.47" cy="1303.44" r="5.3" fill="#000"/><circle cx="591.87" cy="1303.44" r="5.3" fill="#000"/><circle cx="601.26" cy="1495.47" r="5.3" fill="#000"/><circle cx="610.66" cy="1303.44" r="5.3" fill="#000"/><circle cx="620.06" cy="1378.23" r="5.3" fill="#000"/><circle cx="629.45" cy="1303.44" r="5.3" fill="#000"/><circle cx="638.85" cy="1303.44" r="5.3" fill="#000"/><circle cx="648.25" cy="1353.3" r="5.3" fill="#000"/><circle cx="657.65" cy="1303.44" r="5.3" fill="#000"/><circle cx="667.04" cy="1303.44" r="5.3" fill="#000"/><circle cx="676.44" cy="1303.44" r="5.3" fill="#000"/><circle cx="695.23" cy="1303.44" r="5.3" fill="#000"/><circle cx="704.63" cy="1303.44" r="5.3" fill="#000"/><circle cx="723.42" cy="1303.44" r="5.3" fill="#000"/><circle cx="732.82" cy="1491.43" r="5.3" fill="#000"/><circle cx="742.22" cy="1303.44" r="5.3" fill="#000"/><circle cx="751.62" cy="1303.44" r="5.3" fill="#000"/><circle cx="761.01" cy="1303.44" r="5.3" fill="#000"/><circle cx="770.41" cy="1303.44" r="5.3" fill="#000"/><circle cx="779.81" cy="1347.91" r="5.3" fill="#000"/><circle cx="798.6" cy="1303.44" r="5.3" fill="#000"/><circle cx="808" cy="1366.44" r="5.3" fill="#000"/><circle cx="826.79" cy="1303.44" r="5.3" fill="#000"/><circle cx="836.19" cy="1303.44" r="5.3" fill="#000"/><circle cx="845.59" cy="1491.43" r="5.3" fill="#000"/><circle cx="873.78" cy="1303.44" r="5.3" fill="#000"/><circle cx="892.57" cy="1303.44" r="5.3" fill="#000"/><circle cx="901.97" cy="1386.99" r="5.3" fill="#000"/><circle cx="911.36" cy="1303.44" r="5.3" fill="#000"/><circle cx="920.76" cy="1463.8" r="5.3" fill="#000"/><circle cx="948.95" cy="1303.44" r="5.3" fill="#000"/><circle cx="958.35" cy="1314.9" r="5.3" fill="#000"/><circle cx="967.75" cy="1303.44" r="5.3" fill="#000"/><circle cx="977.14" cy="1303.44" r="5.3" fill="#000"/><circle cx="986.54" cy="1303.44" r="5.3" fill="#000"/><circle cx="995.94" cy="1303.44" r="5.3" fill="#000"/><circle cx="1005.33" cy="1303.44" r="5.3" fill="#000"/><circle cx="1014.73" cy="1554.09" r="5.3" fill="#000"/><circle cx="1024.13" cy="1303.44" r="5.3" fill="#000"/><circle cx="1042.92" cy="1303.44" r="5.3" fill="#000"/><circle cx="1052.32" cy="1313.55" r="5.3" fill="#000"/><circle cx="1061.72" cy="1303.44" r="5.3" fill="#000"/><circle cx="1071.11" cy="1303.44" r="5.3" fill="#000"/><circle cx="1080.51" cy="1303.44" r="5.3" fill="#000"/><circle cx="1099.3" cy="1303.44" r="5.3" fill="#000"/><circle cx="1108.7" cy="1303.44" r="5.3" fill="#000"/></g>
<path d="M127.3 1284V1698H1161.5" fill="none" stroke="#333333" stroke-width="4.0" stroke-linecap="square"/>
<line x1="173.9" y1="1698" x2="173.9" y2="1707.7" stroke="#333333" stroke-width="4"/>
<text x="173.7" y="1734.5" font-size="25.6" fill="#4d4d4d" text-anchor="middle" stroke="#4d4d4d" stroke-width="0.5">0</text>
<line x1="267.87" y1="1698" x2="267.87" y2="1707.7" stroke="#333333" stroke-width="4"/>
<text x="267.67" y="1734.5" font-size="25.6" fill="#4d4d4d" text-anchor="middle" stroke="#4d4d4d" stroke-width="0.5">10</text>
<line x1="361.84" y1="1698" x2="361.84" y2="1707.7" stroke="#333333" stroke-width="4"/>
<text x="361.64" y="1734.5" font-size="25.6" fill="#4d4d4d" text-anchor="middle" stroke="#4d4d4d" stroke-width="0.5">20</text>
<line x1="455.81" y1="1698" x2="455.81" y2="1707.7" stroke="#333333" stroke-width="4"/>
<text x="455.61" y="1734.5" font-size="25.6" fill="#4d4d4d" text-anchor="middle" stroke="#4d4d4d" stroke-width="0.5">30</text>
<line x1="549.78" y1="1698" x2="549.78" y2="1707.7" stroke="#333333" stroke-width="4"/>
<text x="549.58" y="1734.5" font-size="25.6" fill="#4d4d4d" text-anchor="middle" stroke="#4d4d4d" stroke-width="0.5">40</text>
<line x1="643.75" y1="1698" x2="643.75" y2="1707.7" stroke="#333333" stroke-width="4"/>
<text x="643.55" y="1734.5" font-size="25.6" fill="#4d4d4d" text-anchor="middle" stroke="#4d4d4d" stroke-width="0.5">50</text>
<line x1="737.72" y1="1698" x2="737.72" y2="1707.7" stroke="#333333" stroke-width="4"/>
<text x="737.52" y="1734.5" font-size="25.6" fill="#4d4d4d" text-anchor="middle" stroke="#4d4d4d" stroke-width="0.5">60</text>
<line x1="831.69" y1="1698" x2="831.69" y2="1707.7" stroke="#333333" stroke-width="4"/>
<text x="831.49" y="1734.5" font-size="25.6" fill="#4d4d4d" text-anchor="middle" stroke="#4d4d4d" stroke-width="0.5">70</text>
<line x1="925.66" y1="1698" x2="925.66" y2="1707.7" stroke="#333333" stroke-width="4"/>
<text x="925.46" y="1734.5" font-size="25.6" fill="#4d4d4d" text-anchor="middle" stroke="#4d4d4d" stroke-width="0.5">80</text>
<line x1="1019.63" y1="1698" x2="1019.63" y2="1707.7" stroke="#333333" stroke-width="4"/>
<text x="1019.43" y="1734.5" font-size="25.6" fill="#4d4d4d" text-anchor="middle" stroke="#4d4d4d" stroke-width="0.5">90</text>
<line x1="1113.6" y1="1698" x2="1113.6" y2="1707.7" stroke="#333333" stroke-width="4"/>
<text x="1113.4" y="1734.5" font-size="25.6" fill="#4d4d4d" text-anchor="middle" stroke="#4d4d4d" stroke-width="0.5">100</text>
<line x1="116.6" y1="1679.5" x2="127.3" y2="1679.5" stroke="#333333" stroke-width="4"/>
<text x="109" y="1688.8" font-size="25.6" fill="#4d4d4d" text-anchor="end" stroke="#4d4d4d" stroke-width="0.5">0.00</text>
<line x1="116.6" y1="1585.5" x2="127.3" y2="1585.5" stroke="#333333" stroke-width="4"/>
<text x="109" y="1594.8" font-size="25.6" fill="#4d4d4d" text-anchor="end" stroke="#4d4d4d" stroke-width="0.5">0.25</text>
<line x1="116.6" y1="1491.5" x2="127.3" y2="1491.5" stroke="#333333" stroke-width="4"/>
<text x="109" y="1500.8" font-size="25.6" fill="#4d4d4d" text-anchor="end" stroke="#4d4d4d" stroke-width="0.5">0.50</text>
<line x1="116.6" y1="1397.5" x2="127.3" y2="1397.5" stroke="#333333" stroke-width="4"/>
<text x="109" y="1406.8" font-size="25.6" fill="#4d4d4d" text-anchor="end" stroke="#4d4d4d" stroke-width="0.5">0.75</text>
<line x1="116.6" y1="1303.5" x2="127.3" y2="1303.5" stroke="#333333" stroke-width="4"/>
<text x="109" y="1312.8" font-size="25.6" fill="#4d4d4d" text-anchor="end" stroke="#4d4d4d" stroke-width="0.5">1.00</text>
<text x="738.3" y="1641.3" font-size="25.2" fill="#000" stroke="#000" word-spacing="-0.5" stroke-width="0.3">R = 0.55, p = 2.6e−08</text>
<text x="42.6" y="1491" font-size="29.1" fill="#000" text-anchor="middle" transform="rotate(-90 42.6 1491)" stroke="#000" stroke-width="0.5">Mean SV heterozygosity level</text>
<text x="644" y="1770.5" font-size="29.1" fill="#000" text-anchor="middle" stroke="#000" stroke-width="0.5">SV length (kb)</text>
<text x="-0.5" y="1265.5" font-size="33.6" fill="#000" font-weight="bold">f</text>
</g>
<g id="panel-g">
<path d="M1367.3 1327.93H1780.6M1367.3 1409.08H1780.6M1367.3 1490.22H1780.6M1367.3 1571.37H1780.6M1367.3 1652.76H1780.6" stroke="#d8d8d8" stroke-width="3.9" fill="none"/>
<path d="M1428.2 1389.7L1428.24 1391.52L1428.28 1393.34L1428.31 1395.17L1428.35 1396.99L1428.38 1398.81L1428.42 1400.63L1428.46 1402.45L1428.49 1404.28L1428.53 1406.1L1428.56 1407.92L1428.6 1409.74L1428.63 1411.56L1428.67 1413.39L1428.71 1415.21L1428.74 1417.03L1428.78 1418.85L1428.82 1420.67L1428.86 1422.5L1428.89 1424.32L1428.93 1426.14L1428.97 1427.96L1429.02 1429.78L1429.06 1431.61L1429.1 1433.43L1429.14 1435.25L1429.19 1437.07L1429.23 1438.89L1429.28 1440.72L1429.32 1442.54L1429.37 1444.36L1429.41 1446.18L1429.45 1448L1429.5 1449.83L1429.55 1451.65L1429.6 1453.47L1429.65 1455.29L1429.7 1457.11L1429.76 1458.94L1429.82 1460.76L1429.88 1462.58L1429.95 1464.4L1430.03 1466.22L1430.11 1468.05L1430.19 1469.87L1430.3 1471.69L1430.45 1473.51L1430.63 1475.33L1430.82 1477.16L1431.02 1478.98L1431.23 1480.8L1431.41 1482.62L1431.58 1484.44L1431.72 1486.27L1431.83 1488.09L1431.93 1489.91L1432.03 1491.73L1432.11 1493.55L1432.2 1495.38L1432.28 1497.2L1432.36 1499.02L1432.45 1500.84L1432.54 1502.66L1432.64 1504.49L1432.75 1506.31L1432.87 1508.13L1432.99 1509.95L1433.12 1511.77L1433.26 1513.6L1433.4 1515.42L1433.55 1517.24L1433.7 1519.06L1433.85 1520.88L1434.02 1522.71L1434.19 1524.53L1434.38 1526.35L1434.59 1528.17L1434.84 1529.99L1435.11 1531.82L1435.39 1533.64L1435.69 1535.46L1435.98 1537.28L1436.27 1539.11L1436.55 1540.93L1436.84 1542.75L1437.14 1544.57L1437.42 1546.39L1437.7 1548.22L1437.95 1550.04L1438.18 1551.86L1438.4 1553.68L1438.61 1555.5L1438.81 1557.33L1438.99 1559.15L1439.15 1560.97L1439.29 1562.79L1439.41 1564.61L1439.52 1566.44L1439.62 1568.26L1439.69 1570.08L1439.7 1571.9L1439.68 1573.72L1439.64 1575.55L1439.6 1577.37L1439.54 1579.19L1439.49 1581.01L1439.42 1582.83L1439.34 1584.66L1439.3 1586.48L1439.57 1588.3L1440.36 1590.12L1441.44 1591.94L1442.71 1593.77L1444.61 1595.59L1446.66 1597.41L1448.32 1599.23L1449.72 1601.05L1450.99 1602.88L1452.11 1604.7L1453.17 1606.52L1454.11 1608.34L1454.83 1610.16L1455.31 1611.99L1455.69 1613.81L1455.99 1615.63L1456.23 1617.45L1456.39 1619.27L1456.56 1621.1L1456.79 1622.92L1457.09 1624.74L1457.47 1626.56L1457.96 1628.38L1458.7 1630.21L1459.67 1632.03L1460.71 1633.85L1461.73 1635.67L1462.81 1637.49L1463.93 1639.32L1465.04 1641.14L1466.19 1642.96L1467.31 1644.78L1468.33 1646.6L1469.28 1648.43L1470.17 1650.25L1470.93 1652.07L1471.66 1653.89L1472.33 1655.71L1472.69 1657.54L1472.7 1659.36L1472.7 1661.18L1472.67 1663L1472.03 1664.82L1470.84 1666.65L1469.34 1668.47L1467.02 1670.29L1464.38 1672.11L1461.57 1673.93L1458.4 1675.76L1454.81 1677.58L1450.7 1679.4L1402.7 1679.4L1398.59 1677.58L1395 1675.76L1391.83 1673.93L1389.02 1672.11L1386.38 1670.29L1384.06 1668.47L1382.56 1666.65L1381.37 1664.82L1380.73 1663L1380.7 1661.18L1380.7 1659.36L1380.71 1657.54L1381.07 1655.71L1381.74 1653.89L1382.47 1652.07L1383.23 1650.25L1384.12 1648.43L1385.07 1646.6L1386.09 1644.78L1387.21 1642.96L1388.36 1641.14L1389.47 1639.32L1390.59 1637.49L1391.67 1635.67L1392.69 1633.85L1393.73 1632.03L1394.7 1630.21L1395.44 1628.38L1395.93 1626.56L1396.31 1624.74L1396.61 1622.92L1396.84 1621.1L1397.01 1619.27L1397.17 1617.45L1397.41 1615.63L1397.71 1613.81L1398.09 1611.99L1398.57 1610.16L1399.29 1608.34L1400.23 1606.52L1401.29 1604.7L1402.41 1602.88L1403.68 1601.05L1405.08 1599.23L1406.74 1597.41L1408.79 1595.59L1410.69 1593.77L1411.96 1591.94L1413.04 1590.12L1413.83 1588.3L1414.1 1586.48L1414.06 1584.66L1413.98 1582.83L1413.91 1581.01L1413.86 1579.19L1413.8 1577.37L1413.76 1575.55L1413.72 1573.72L1413.7 1571.9L1413.71 1570.08L1413.78 1568.26L1413.88 1566.44L1413.99 1564.61L1414.11 1562.79L1414.25 1560.97L1414.41 1559.15L1414.59 1557.33L1414.79 1555.5L1415 1553.68L1415.22 1551.86L1415.45 1550.04L1415.7 1548.22L1415.98 1546.39L1416.26 1544.57L1416.56 1542.75L1416.85 1540.93L1417.13 1539.11L1417.42 1537.28L1417.71 1535.46L1418.01 1533.64L1418.29 1531.82L1418.56 1529.99L1418.81 1528.17L1419.02 1526.35L1419.21 1524.53L1419.38 1522.71L1419.55 1520.88L1419.7 1519.06L1419.85 1517.24L1420 1515.42L1420.14 1513.6L1420.28 1511.77L1420.41 1509.95L1420.53 1508.13L1420.65 1506.31L1420.76 1504.49L1420.86 1502.66L1420.95 1500.84L1421.04 1499.02L1421.12 1497.2L1421.2 1495.38L1421.29 1493.55L1421.37 1491.73L1421.47 1489.91L1421.57 1488.09L1421.68 1486.27L1421.82 1484.44L1421.99 1482.62L1422.17 1480.8L1422.38 1478.98L1422.58 1477.16L1422.77 1475.33L1422.95 1473.51L1423.1 1471.69L1423.21 1469.87L1423.29 1468.05L1423.37 1466.22L1423.45 1464.4L1423.52 1462.58L1423.58 1460.76L1423.64 1458.94L1423.7 1457.11L1423.75 1455.29L1423.8 1453.47L1423.85 1451.65L1423.9 1449.83L1423.95 1448L1423.99 1446.18L1424.03 1444.36L1424.08 1442.54L1424.12 1440.72L1424.17 1438.89L1424.21 1437.07L1424.26 1435.25L1424.3 1433.43L1424.34 1431.61L1424.38 1429.78L1424.43 1427.96L1424.47 1426.14L1424.51 1424.32L1424.54 1422.5L1424.58 1420.67L1424.62 1418.85L1424.66 1417.03L1424.69 1415.21L1424.73 1413.39L1424.77 1411.56L1424.8 1409.74L1424.84 1407.92L1424.87 1406.1L1424.91 1404.28L1424.94 1402.45L1424.98 1400.63L1425.02 1398.81L1425.05 1396.99L1425.09 1395.17L1425.12 1393.34L1425.16 1391.52L1425.2 1389.7Z" fill="#e8c5aa"/>
<path d="M1525.7 1394L1525.77 1395.81L1525.83 1397.61L1525.9 1399.42L1525.96 1401.23L1526.02 1403.03L1526.08 1404.84L1526.13 1406.65L1526.19 1408.46L1526.25 1410.26L1526.31 1412.07L1526.36 1413.88L1526.42 1415.68L1526.48 1417.49L1526.55 1419.3L1526.61 1421.1L1526.68 1422.91L1526.75 1424.72L1526.83 1426.52L1526.91 1428.33L1527 1430.14L1527.09 1431.95L1527.18 1433.75L1527.28 1435.56L1527.39 1437.37L1527.51 1439.17L1527.65 1440.98L1527.82 1442.79L1527.99 1444.59L1528.19 1446.4L1528.4 1448.21L1528.62 1450.01L1528.86 1451.82L1529.11 1453.63L1529.37 1455.44L1529.64 1457.24L1529.92 1459.05L1530.2 1460.86L1530.49 1462.66L1530.81 1464.47L1531.16 1466.28L1531.54 1468.08L1531.94 1469.89L1532.36 1471.7L1532.81 1473.5L1533.27 1475.31L1533.77 1477.12L1534.35 1478.93L1534.93 1480.73L1535.45 1482.54L1535.93 1484.35L1536.45 1486.15L1537.04 1487.96L1537.78 1489.77L1538.71 1491.57L1540.4 1493.38L1543.26 1495.19L1546.18 1496.99L1548.31 1498.8L1550.23 1500.61L1551.78 1502.42L1552.71 1504.22L1553.35 1506.03L1553.82 1507.84L1554 1509.64L1553.35 1511.45L1551.83 1513.26L1550.01 1515.06L1548.17 1516.87L1545.91 1518.68L1543.59 1520.48L1541.5 1522.29L1539.38 1524.1L1537.52 1525.91L1536.36 1527.71L1535.58 1529.52L1534.98 1531.33L1534.71 1533.13L1534.71 1534.94L1534.74 1536.75L1534.8 1538.55L1534.86 1540.36L1534.95 1542.17L1535.04 1543.97L1535.13 1545.78L1535.28 1547.59L1535.48 1549.39L1535.7 1551.2L1535.95 1553.01L1536.2 1554.82L1536.44 1556.62L1536.66 1558.43L1536.86 1560.24L1537.05 1562.04L1537.25 1563.85L1537.46 1565.66L1537.69 1567.46L1537.96 1569.27L1538.26 1571.08L1538.62 1572.88L1539.04 1574.69L1539.56 1576.5L1540.17 1578.31L1540.89 1580.11L1541.84 1581.92L1543.26 1583.73L1544.93 1585.53L1546.58 1587.34L1548.27 1589.15L1550.06 1590.95L1551.97 1592.76L1554.04 1594.57L1556.26 1596.37L1558.49 1598.18L1560.72 1599.99L1563.01 1601.8L1565.15 1603.6L1567.07 1605.41L1569.09 1607.22L1570.66 1609.02L1571.07 1610.83L1570.34 1612.64L1568.99 1614.44L1567.42 1616.25L1565.62 1618.06L1563.35 1619.86L1560.98 1621.67L1558.69 1623.48L1556.24 1625.29L1554.07 1627.09L1552.62 1628.9L1551.51 1630.71L1550.64 1632.51L1550.07 1634.32L1549.71 1636.13L1549.43 1637.93L1549.22 1639.74L1549.02 1641.55L1548.81 1643.35L1548.55 1645.16L1548.21 1646.97L1547.8 1648.78L1547.33 1650.58L1546.81 1652.39L1546.24 1654.2L1545.58 1656L1544.84 1657.81L1544.01 1659.62L1543.09 1661.42L1542.11 1663.23L1541.1 1665.04L1540.03 1666.84L1538.93 1668.65L1537.84 1670.46L1536.72 1672.27L1535.62 1674.07L1534.6 1675.88L1533.68 1677.69L1532.82 1679.49L1532 1681.3L1518 1681.3L1517.18 1679.49L1516.32 1677.69L1515.4 1675.88L1514.38 1674.07L1513.28 1672.27L1512.16 1670.46L1511.07 1668.65L1509.97 1666.84L1508.9 1665.04L1507.89 1663.23L1506.91 1661.42L1505.99 1659.62L1505.16 1657.81L1504.42 1656L1503.76 1654.2L1503.19 1652.39L1502.67 1650.58L1502.2 1648.78L1501.79 1646.97L1501.45 1645.16L1501.19 1643.35L1500.98 1641.55L1500.78 1639.74L1500.57 1637.93L1500.29 1636.13L1499.93 1634.32L1499.36 1632.51L1498.49 1630.71L1497.38 1628.9L1495.93 1627.09L1493.76 1625.29L1491.31 1623.48L1489.02 1621.67L1486.65 1619.86L1484.38 1618.06L1482.58 1616.25L1481.01 1614.44L1479.66 1612.64L1478.93 1610.83L1479.34 1609.02L1480.91 1607.22L1482.93 1605.41L1484.85 1603.6L1486.99 1601.8L1489.28 1599.99L1491.51 1598.18L1493.74 1596.37L1495.96 1594.57L1498.03 1592.76L1499.94 1590.95L1501.73 1589.15L1503.42 1587.34L1505.07 1585.53L1506.74 1583.73L1508.16 1581.92L1509.11 1580.11L1509.83 1578.31L1510.44 1576.5L1510.96 1574.69L1511.38 1572.88L1511.74 1571.08L1512.04 1569.27L1512.31 1567.46L1512.54 1565.66L1512.75 1563.85L1512.95 1562.04L1513.14 1560.24L1513.34 1558.43L1513.56 1556.62L1513.8 1554.82L1514.05 1553.01L1514.3 1551.2L1514.52 1549.39L1514.72 1547.59L1514.87 1545.78L1514.96 1543.97L1515.05 1542.17L1515.14 1540.36L1515.2 1538.55L1515.26 1536.75L1515.29 1534.94L1515.29 1533.13L1515.02 1531.33L1514.42 1529.52L1513.64 1527.71L1512.48 1525.91L1510.62 1524.1L1508.5 1522.29L1506.41 1520.48L1504.09 1518.68L1501.83 1516.87L1499.99 1515.06L1498.17 1513.26L1496.65 1511.45L1496 1509.64L1496.18 1507.84L1496.65 1506.03L1497.29 1504.22L1498.22 1502.42L1499.77 1500.61L1501.69 1498.8L1503.82 1496.99L1506.74 1495.19L1509.6 1493.38L1511.29 1491.57L1512.22 1489.77L1512.96 1487.96L1513.55 1486.15L1514.07 1484.35L1514.55 1482.54L1515.07 1480.73L1515.65 1478.93L1516.23 1477.12L1516.73 1475.31L1517.19 1473.5L1517.64 1471.7L1518.06 1469.89L1518.46 1468.08L1518.84 1466.28L1519.19 1464.47L1519.51 1462.66L1519.8 1460.86L1520.08 1459.05L1520.36 1457.24L1520.63 1455.44L1520.89 1453.63L1521.14 1451.82L1521.38 1450.01L1521.6 1448.21L1521.81 1446.4L1522.01 1444.59L1522.18 1442.79L1522.35 1440.98L1522.49 1439.17L1522.61 1437.37L1522.72 1435.56L1522.82 1433.75L1522.91 1431.95L1523 1430.14L1523.09 1428.33L1523.17 1426.52L1523.25 1424.72L1523.32 1422.91L1523.39 1421.1L1523.45 1419.3L1523.52 1417.49L1523.58 1415.68L1523.64 1413.88L1523.69 1412.07L1523.75 1410.26L1523.81 1408.46L1523.87 1406.65L1523.92 1404.84L1523.98 1403.03L1524.04 1401.23L1524.1 1399.42L1524.17 1397.61L1524.23 1395.81L1524.3 1394Z" fill="#a9abc7"/>
<path d="M1627.3 1356.2L1627.79 1357.57L1628.27 1358.93L1628.76 1360.3L1629.26 1361.67L1629.78 1363.04L1630.3 1364.4L1630.84 1365.77L1631.39 1367.14L1631.96 1368.51L1632.54 1369.87L1633.14 1371.24L1633.74 1372.61L1634.36 1373.97L1635.01 1375.34L1635.66 1376.71L1636.32 1378.08L1636.97 1379.44L1637.6 1380.81L1638.23 1382.18L1638.86 1383.55L1639.47 1384.91L1640.09 1386.28L1640.72 1387.65L1641.33 1389.02L1641.89 1390.38L1642.4 1391.75L1642.88 1393.12L1643.33 1394.48L1643.72 1395.85L1644.02 1397.22L1644.26 1398.59L1644.46 1399.95L1644.63 1401.32L1644.77 1402.69L1644.9 1404.06L1645.02 1405.42L1645.13 1406.79L1645.19 1408.16L1645.19 1409.52L1645.14 1410.89L1645.04 1412.26L1644.92 1413.63L1644.79 1414.99L1644.63 1416.36L1644.42 1417.73L1644.21 1419.1L1644.03 1420.46L1643.9 1421.83L1643.78 1423.2L1643.67 1424.56L1643.61 1425.93L1643.61 1427.3L1643.66 1428.67L1643.76 1430.03L1643.88 1431.4L1644.01 1432.77L1644.15 1434.14L1644.33 1435.5L1644.53 1436.87L1644.74 1438.24L1644.96 1439.61L1645.18 1440.97L1645.41 1442.34L1645.65 1443.71L1645.9 1445.07L1646.16 1446.44L1646.44 1447.81L1646.73 1449.18L1647.03 1450.54L1647.36 1451.91L1647.72 1453.28L1648.11 1454.65L1648.51 1456.01L1648.93 1457.38L1649.36 1458.75L1649.8 1460.11L1650.24 1461.48L1650.68 1462.85L1651.12 1464.22L1651.58 1465.58L1652.04 1466.95L1652.51 1468.32L1653 1469.69L1653.5 1471.05L1654.01 1472.42L1654.54 1473.79L1655.08 1475.15L1655.63 1476.52L1656.2 1477.89L1656.79 1479.26L1657.39 1480.62L1658.02 1481.99L1658.67 1483.36L1659.34 1484.73L1660.05 1486.09L1660.84 1487.46L1661.71 1488.83L1662.59 1490.19L1663.41 1491.56L1664.15 1492.93L1664.86 1494.3L1665.52 1495.66L1666.14 1497.03L1666.7 1498.4L1667.24 1499.77L1667.75 1501.13L1668.19 1502.5L1668.51 1503.87L1668.78 1505.24L1669.02 1506.6L1669.2 1507.97L1669.3 1509.34L1669.26 1510.7L1669.1 1512.07L1668.84 1513.44L1668.52 1514.81L1668.16 1516.17L1667.62 1517.54L1666.9 1518.91L1666.1 1520.28L1665.27 1521.64L1664.41 1523.01L1663.46 1524.38L1662.47 1525.74L1661.48 1527.11L1660.5 1528.48L1659.51 1529.85L1658.52 1531.21L1657.55 1532.58L1656.64 1533.95L1655.77 1535.32L1654.94 1536.68L1654.11 1538.05L1653.27 1539.42L1652.39 1540.78L1651.49 1542.15L1650.58 1543.52L1649.7 1544.89L1648.85 1546.25L1648.03 1547.62L1647.23 1548.99L1646.44 1550.36L1645.65 1551.72L1644.87 1553.09L1644.09 1554.46L1643.3 1555.83L1642.5 1557.19L1641.69 1558.56L1640.88 1559.93L1640.05 1561.29L1639.23 1562.66L1638.42 1564.03L1637.61 1565.4L1636.82 1566.76L1636.06 1568.13L1635.31 1569.5L1634.55 1570.87L1633.74 1572.23L1632.9 1573.6L1613.7 1573.6L1612.86 1572.23L1612.05 1570.87L1611.29 1569.5L1610.54 1568.13L1609.78 1566.76L1608.99 1565.4L1608.18 1564.03L1607.37 1562.66L1606.55 1561.29L1605.72 1559.93L1604.91 1558.56L1604.1 1557.19L1603.3 1555.83L1602.51 1554.46L1601.73 1553.09L1600.95 1551.72L1600.16 1550.36L1599.37 1548.99L1598.57 1547.62L1597.75 1546.25L1596.9 1544.89L1596.02 1543.52L1595.11 1542.15L1594.21 1540.78L1593.33 1539.42L1592.49 1538.05L1591.66 1536.68L1590.83 1535.32L1589.96 1533.95L1589.05 1532.58L1588.08 1531.21L1587.09 1529.85L1586.1 1528.48L1585.12 1527.11L1584.13 1525.74L1583.14 1524.38L1582.19 1523.01L1581.33 1521.64L1580.5 1520.28L1579.7 1518.91L1578.98 1517.54L1578.44 1516.17L1578.08 1514.81L1577.76 1513.44L1577.5 1512.07L1577.34 1510.7L1577.3 1509.34L1577.4 1507.97L1577.58 1506.6L1577.82 1505.24L1578.09 1503.87L1578.41 1502.5L1578.85 1501.13L1579.36 1499.77L1579.9 1498.4L1580.46 1497.03L1581.08 1495.66L1581.74 1494.3L1582.45 1492.93L1583.19 1491.56L1584.01 1490.19L1584.89 1488.83L1585.76 1487.46L1586.55 1486.09L1587.26 1484.73L1587.93 1483.36L1588.58 1481.99L1589.21 1480.62L1589.81 1479.26L1590.4 1477.89L1590.97 1476.52L1591.52 1475.15L1592.06 1473.79L1592.59 1472.42L1593.1 1471.05L1593.6 1469.69L1594.09 1468.32L1594.56 1466.95L1595.02 1465.58L1595.48 1464.22L1595.92 1462.85L1596.36 1461.48L1596.8 1460.11L1597.24 1458.75L1597.67 1457.38L1598.09 1456.01L1598.49 1454.65L1598.88 1453.28L1599.24 1451.91L1599.57 1450.54L1599.87 1449.18L1600.16 1447.81L1600.44 1446.44L1600.7 1445.07L1600.95 1443.71L1601.19 1442.34L1601.42 1440.97L1601.64 1439.61L1601.86 1438.24L1602.07 1436.87L1602.27 1435.5L1602.45 1434.14L1602.59 1432.77L1602.72 1431.4L1602.84 1430.03L1602.94 1428.67L1602.99 1427.3L1602.99 1425.93L1602.93 1424.56L1602.82 1423.2L1602.7 1421.83L1602.57 1420.46L1602.39 1419.1L1602.18 1417.73L1601.97 1416.36L1601.81 1414.99L1601.68 1413.63L1601.56 1412.26L1601.46 1410.89L1601.41 1409.52L1601.41 1408.16L1601.47 1406.79L1601.58 1405.42L1601.7 1404.06L1601.83 1402.69L1601.97 1401.32L1602.14 1399.95L1602.34 1398.59L1602.58 1397.22L1602.88 1395.85L1603.27 1394.48L1603.72 1393.12L1604.2 1391.75L1604.71 1390.38L1605.27 1389.02L1605.88 1387.65L1606.51 1386.28L1607.13 1384.91L1607.74 1383.55L1608.37 1382.18L1609 1380.81L1609.63 1379.44L1610.28 1378.08L1610.94 1376.71L1611.59 1375.34L1612.24 1373.97L1612.86 1372.61L1613.46 1371.24L1614.06 1369.87L1614.64 1368.51L1615.21 1367.14L1615.76 1365.77L1616.3 1364.4L1616.82 1363.04L1617.34 1361.67L1617.84 1360.3L1618.33 1358.93L1618.81 1357.57L1619.3 1356.2Z" fill="#f3dfa7"/>
<path d="M1743.2 1338.7L1745.62 1340.29L1748.12 1341.89L1751.01 1343.48L1754 1345.07L1756.48 1346.66L1758.45 1348.26L1760.22 1349.85L1761.76 1351.44L1763.07 1353.04L1764.16 1354.63L1765.17 1356.22L1766.05 1357.81L1766.75 1359.41L1767.21 1361L1767.51 1362.59L1767.78 1364.19L1767.98 1365.78L1768.09 1367.37L1768.08 1368.96L1767.96 1370.56L1767.74 1372.15L1767.48 1373.74L1767.2 1375.33L1766.87 1376.93L1766.46 1378.52L1765.97 1380.11L1765.44 1381.71L1764.88 1383.3L1764.3 1384.89L1763.69 1386.48L1763.01 1388.08L1762.29 1389.67L1761.54 1391.26L1760.77 1392.86L1760.01 1394.45L1759.25 1396.04L1758.47 1397.63L1757.68 1399.23L1756.87 1400.82L1756.05 1402.41L1755.22 1404.01L1754.37 1405.6L1753.48 1407.19L1752.57 1408.78L1751.67 1410.38L1750.78 1411.97L1749.93 1413.56L1749.08 1415.16L1748.19 1416.75L1747.32 1418.34L1746.5 1419.93L1745.79 1421.53L1745.22 1423.12L1744.75 1424.71L1744.29 1426.3L1743.87 1427.9L1743.53 1429.49L1743.29 1431.08L1743.2 1432.68L1743.28 1434.27L1743.5 1435.86L1743.84 1437.45L1744.26 1439.05L1744.71 1440.64L1745.17 1442.23L1745.7 1443.83L1746.4 1445.42L1747.17 1447.01L1747.95 1448.6L1748.64 1450.2L1749.17 1451.79L1749.57 1453.38L1749.96 1454.98L1750.32 1456.57L1750.61 1458.16L1750.82 1459.75L1750.9 1461.35L1750.84 1462.94L1750.65 1464.53L1750.37 1466.13L1750.02 1467.72L1749.63 1469.31L1749.24 1470.9L1748.8 1472.5L1748.26 1474.09L1747.63 1475.68L1746.97 1477.27L1746.31 1478.87L1745.67 1480.46L1745.08 1482.05L1744.49 1483.65L1743.9 1485.24L1743.3 1486.83L1742.7 1488.42L1742.08 1490.02L1741.44 1491.61L1740.78 1493.2L1740.11 1494.8L1739.43 1496.39L1738.76 1497.98L1738.09 1499.57L1737.43 1501.17L1736.76 1502.76L1736.08 1504.35L1735.42 1505.95L1734.79 1507.54L1734.19 1509.13L1733.62 1510.72L1733.07 1512.32L1732.54 1513.91L1732.03 1515.5L1731.53 1517.1L1731.06 1518.69L1730.6 1520.28L1730.15 1521.87L1729.72 1523.47L1729.3 1525.06L1728.89 1526.65L1728.5 1528.24L1728.13 1529.84L1727.78 1531.43L1727.46 1533.02L1727.15 1534.62L1726.87 1536.21L1726.59 1537.8L1726.33 1539.39L1726.09 1540.99L1725.85 1542.58L1725.64 1544.17L1725.44 1545.77L1725.25 1547.36L1725.07 1548.95L1724.89 1550.54L1724.73 1552.14L1724.58 1553.73L1724.44 1555.32L1724.32 1556.92L1724.22 1558.51L1724.12 1560.1L1724.03 1561.69L1723.94 1563.29L1723.86 1564.88L1723.79 1566.47L1723.72 1568.07L1723.66 1569.66L1723.6 1571.25L1723.55 1572.84L1723.51 1574.44L1723.46 1576.03L1723.42 1577.62L1723.38 1579.21L1723.35 1580.81L1723.31 1582.4L1723.28 1583.99L1723.24 1585.59L1723.21 1587.18L1723.17 1588.77L1723.14 1590.36L1723.1 1591.96L1720.3 1591.96L1720.26 1590.36L1720.23 1588.77L1720.19 1587.18L1720.16 1585.59L1720.12 1583.99L1720.09 1582.4L1720.05 1580.81L1720.02 1579.21L1719.98 1577.62L1719.94 1576.03L1719.89 1574.44L1719.85 1572.84L1719.8 1571.25L1719.74 1569.66L1719.68 1568.07L1719.61 1566.47L1719.54 1564.88L1719.46 1563.29L1719.37 1561.69L1719.28 1560.1L1719.18 1558.51L1719.08 1556.92L1718.96 1555.32L1718.82 1553.73L1718.67 1552.14L1718.51 1550.54L1718.33 1548.95L1718.15 1547.36L1717.96 1545.77L1717.76 1544.17L1717.55 1542.58L1717.31 1540.99L1717.07 1539.39L1716.81 1537.8L1716.53 1536.21L1716.25 1534.62L1715.94 1533.02L1715.62 1531.43L1715.27 1529.84L1714.9 1528.24L1714.51 1526.65L1714.1 1525.06L1713.68 1523.47L1713.25 1521.87L1712.8 1520.28L1712.34 1518.69L1711.87 1517.1L1711.37 1515.5L1710.86 1513.91L1710.33 1512.32L1709.78 1510.72L1709.21 1509.13L1708.61 1507.54L1707.98 1505.95L1707.32 1504.35L1706.64 1502.76L1705.97 1501.17L1705.31 1499.57L1704.64 1497.98L1703.97 1496.39L1703.29 1494.8L1702.62 1493.2L1701.96 1491.61L1701.32 1490.02L1700.7 1488.42L1700.1 1486.83L1699.5 1485.24L1698.91 1483.65L1698.32 1482.05L1697.73 1480.46L1697.09 1478.87L1696.43 1477.27L1695.77 1475.68L1695.14 1474.09L1694.6 1472.5L1694.16 1470.9L1693.77 1469.31L1693.38 1467.72L1693.03 1466.13L1692.75 1464.53L1692.56 1462.94L1692.5 1461.35L1692.58 1459.75L1692.79 1458.16L1693.08 1456.57L1693.44 1454.98L1693.83 1453.38L1694.23 1451.79L1694.76 1450.2L1695.45 1448.6L1696.23 1447.01L1697 1445.42L1697.7 1443.83L1698.23 1442.23L1698.69 1440.64L1699.14 1439.05L1699.56 1437.45L1699.9 1435.86L1700.12 1434.27L1700.2 1432.68L1700.11 1431.08L1699.87 1429.49L1699.53 1427.9L1699.11 1426.3L1698.65 1424.71L1698.18 1423.12L1697.61 1421.53L1696.9 1419.93L1696.08 1418.34L1695.21 1416.75L1694.32 1415.16L1693.47 1413.56L1692.62 1411.97L1691.73 1410.38L1690.83 1408.78L1689.92 1407.19L1689.03 1405.6L1688.18 1404.01L1687.35 1402.41L1686.53 1400.82L1685.72 1399.23L1684.93 1397.63L1684.15 1396.04L1683.39 1394.45L1682.63 1392.86L1681.86 1391.26L1681.11 1389.67L1680.39 1388.08L1679.71 1386.48L1679.1 1384.89L1678.52 1383.3L1677.96 1381.71L1677.43 1380.11L1676.94 1378.52L1676.53 1376.93L1676.2 1375.33L1675.92 1373.74L1675.66 1372.15L1675.44 1370.56L1675.32 1368.96L1675.31 1367.37L1675.42 1365.78L1675.62 1364.19L1675.89 1362.59L1676.19 1361L1676.65 1359.41L1677.35 1357.81L1678.23 1356.22L1679.24 1354.63L1680.33 1353.04L1681.64 1351.44L1683.18 1349.85L1684.95 1348.26L1686.92 1346.66L1689.4 1345.07L1692.39 1343.48L1695.28 1341.89L1697.78 1340.29L1700.2 1338.7Z" fill="#434a51"/>
<line x1="1426.7" y1="1518.95" x2="1426.7" y2="1676.94" stroke="#2f2f31" stroke-width="3.8"/>
<rect x="1421.5" y="1601.22" width="10.4" height="56.16" fill="#ffffff" stroke="#2f2f31" stroke-width="3.2"/><line x1="1421.6" y1="1633.85" x2="1431.8" y2="1633.85" stroke="#2f2f31" stroke-width="7.4"/>
<circle cx="1426.7" cy="1379.63" r="4.4" fill="#2f2f31"/><circle cx="1426.7" cy="1387.29" r="4.4" fill="#2f2f31"/><circle cx="1426.7" cy="1405.25" r="4.4" fill="#2f2f31"/><circle cx="1426.7" cy="1411.23" r="4.4" fill="#2f2f31"/><circle cx="1426.7" cy="1422" r="4.4" fill="#2f2f31"/><circle cx="1426.7" cy="1427.99" r="4.4" fill="#2f2f31"/><circle cx="1426.7" cy="1435.17" r="4.4" fill="#2f2f31"/>
<line x1="1426.7" y1="1449.53" x2="1426.7" y2="1516.55" stroke="#2f2f31" stroke-width="8.8" stroke-linecap="round"/>
<line x1="1525" y1="1394.47" x2="1525" y2="1679.33" stroke="#2f2f31" stroke-width="3.8"/>
<rect x="1519.8" y="1517.68" width="10.4" height="108.59" fill="#ffffff" stroke="#2f2f31" stroke-width="3.2"/><line x1="1519.9" y1="1608.71" x2="1530.1" y2="1608.71" stroke="#2f2f31" stroke-width="7.4"/>
<line x1="1623.3" y1="1358.09" x2="1623.3" y2="1571.13" stroke="#2f2f31" stroke-width="3.8"/>
<rect x="1618.1" y="1440.36" width="10.4" height="76.99" fill="#ffffff" stroke="#2f2f31" stroke-width="3.2"/><line x1="1618.2" y1="1495.73" x2="1628.4" y2="1495.73" stroke="#2f2f31" stroke-width="7.4"/>
<line x1="1721.7" y1="1340.62" x2="1721.7" y2="1590.76" stroke="#2f2f31" stroke-width="3.8"/>
<rect x="1716.5" y="1366.87" width="10.4" height="90.63" fill="#ffffff" stroke="#2f2f31" stroke-width="3.2"/><line x1="1716.6" y1="1401.66" x2="1726.8" y2="1401.66" stroke="#2f2f31" stroke-width="7.4"/>
<circle cx="1721.7" cy="1593.87" r="4.4" fill="#2f2f31"/>
<text x="1426.7" y="1313.9" font-size="29" fill="#000" text-anchor="middle" stroke="#000" stroke-width="0.2">A</text>
<text x="1525" y="1313.9" font-size="29" fill="#000" text-anchor="middle" stroke="#000" stroke-width="0.2">B</text>
<text x="1623.3" y="1313.9" font-size="29" fill="#000" text-anchor="middle" stroke="#000" stroke-width="0.2">C</text>
<text x="1721.7" y="1313.9" font-size="29" fill="#000" text-anchor="middle" stroke="#000" stroke-width="0.2">D</text>
<text x="1349.5" y="1337.23" font-size="25.6" fill="#4d4d4d" text-anchor="end" stroke="#4d4d4d" stroke-width="0.5">1e+06</text>
<text x="1349.5" y="1418.38" font-size="25.6" fill="#4d4d4d" text-anchor="end" stroke="#4d4d4d" stroke-width="0.5">1e+05</text>
<text x="1349.5" y="1499.52" font-size="25.6" fill="#4d4d4d" text-anchor="end" stroke="#4d4d4d" stroke-width="0.5">1e+04</text>
<text x="1349.5" y="1580.67" font-size="25.6" fill="#4d4d4d" text-anchor="end" stroke="#4d4d4d" stroke-width="0.5">1e+03</text>
<text x="1349.5" y="1662.06" font-size="25.6" fill="#4d4d4d" text-anchor="end" stroke="#4d4d4d" stroke-width="0.5">1e+02</text>
<g transform="translate(1426.7 1716) rotate(-30)"><text x="0" y="18.3" font-size="25.5" fill="#4d4d4d" text-anchor="end" stroke="#4d4d4d" stroke-width="0.5">CNV</text><text x="0" y="45.8" font-size="25.5" fill="#4d4d4d" text-anchor="end" stroke="#4d4d4d" stroke-width="0.5">(n=1,207)</text></g>
<g transform="translate(1525 1716) rotate(-30)"><text x="0" y="18.3" font-size="25.5" fill="#4d4d4d" text-anchor="end" stroke="#4d4d4d" stroke-width="0.5">PAV</text><text x="0" y="45.8" font-size="25.5" fill="#4d4d4d" text-anchor="end" stroke="#4d4d4d" stroke-width="0.5">(n=4,755)</text></g>
<g transform="translate(1623.3 1716) rotate(-30)"><text x="0" y="18.3" font-size="25.5" fill="#4d4d4d" text-anchor="end" stroke="#4d4d4d" stroke-width="0.5">INV</text><text x="0" y="45.8" font-size="25.5" fill="#4d4d4d" text-anchor="end" stroke="#4d4d4d" stroke-width="0.5">(n=231)</text></g>
<g transform="translate(1721.7 1716) rotate(-30)"><text x="0" y="18.3" font-size="25.5" fill="#4d4d4d" text-anchor="end" stroke="#4d4d4d" stroke-width="0.5">TRA</text><text x="0" y="45.8" font-size="25.5" fill="#4d4d4d" text-anchor="end" stroke="#4d4d4d" stroke-width="0.5">(n=394)</text></g>
<text x="1574" y="1846.5" font-size="29.1" fill="#000" text-anchor="middle" stroke="#000" stroke-width="0.5">SV Type</text>
<text x="1261.2" y="1492" font-size="29.1" fill="#000" text-anchor="middle" transform="rotate(-90 1261.2 1492)" stroke="#000" stroke-width="0.5">SV Length (bp)</text>
<text x="1241" y="1265.5" font-size="33.6" fill="#000" font-weight="bold">g</text>
</g>
</svg>
</body>
</html>
